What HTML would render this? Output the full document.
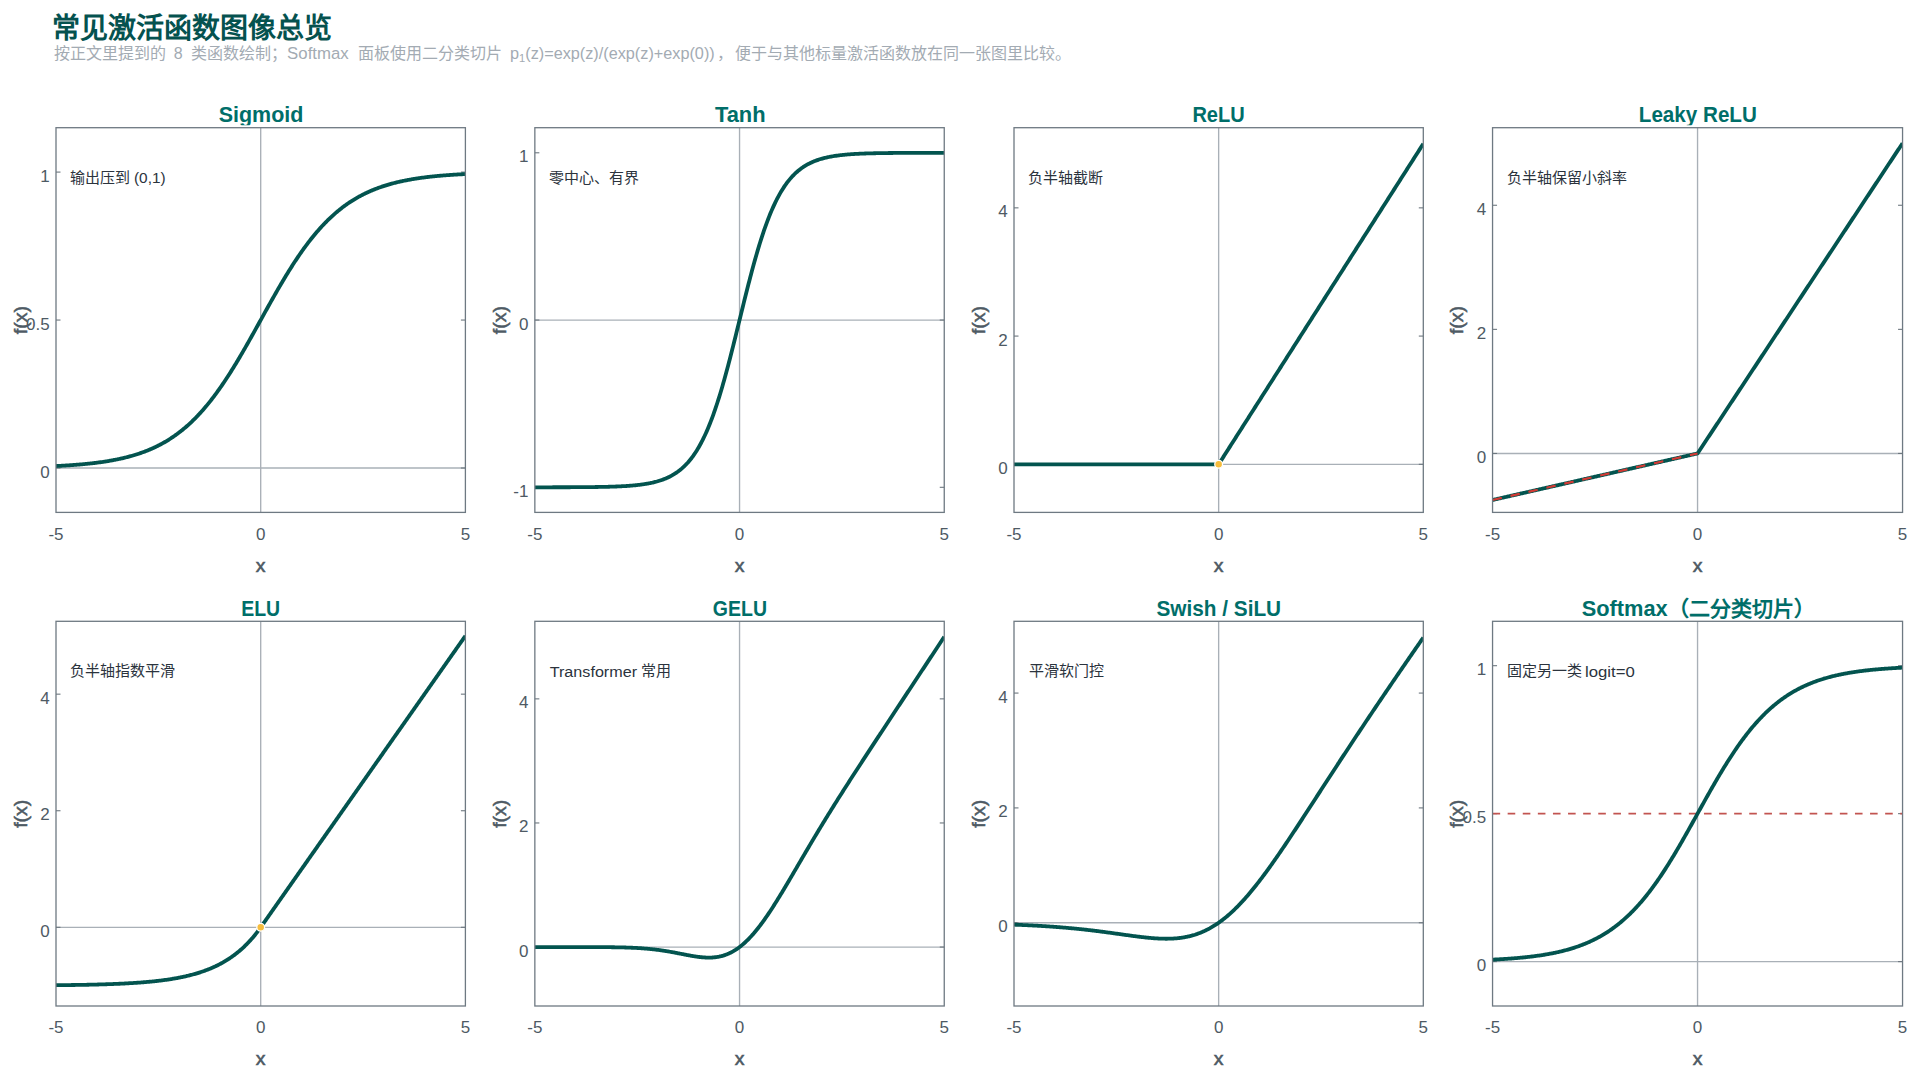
<!DOCTYPE html><html lang="zh-CN"><head><meta charset="utf-8"><style>html,body{margin:0;padding:0;background:#fff;width:1920px;height:1079px;overflow:hidden}svg{display:block}text{font-family:"Liberation Sans", sans-serif}</style></head><body>
<svg width="1920" height="1079" viewBox="0 0 1920 1079">
<rect width="1920" height="1079" fill="#fff"/>
<text x="52.30" y="37.60" font-size="28" font-weight="bold" fill="#05524f">常见激活函数图像总览</text>
<text x="53.80" y="59.20" font-size="16" font-weight="normal" fill="#a3abb3">按正文里提到的</text>
<text x="173.85" y="59.10" font-size="16" font-weight="normal" fill="#a3abb3">8</text>
<text x="191.45" y="59.20" font-size="16" font-weight="normal" fill="#a3abb3">类函数绘制；</text>
<text transform="translate(287.11 59.10) scale(1.0494 1.0300)" font-size="16" font-weight="normal" fill="#a3abb3">Softmax</text>
<text x="357.75" y="59.20" font-size="16" font-weight="normal" fill="#a3abb3">面板使用二分类切片</text>
<text transform="translate(509.98 59.10) scale(1.0150 1.0300)" font-size="16" font-weight="normal" fill="#a3abb3">p<tspan font-size="11" dy="3">1</tspan><tspan dy="-3">(z)=exp(z)/(exp(z)+exp(0))</tspan></text>
<text x="716.50" y="59.20" font-size="16" font-weight="normal" fill="#a3abb3">，</text>
<text x="734.50" y="59.20" font-size="16" font-weight="normal" fill="#a3abb3">便于与其他标量激活函数放在同一张图里比较。</text>
<clipPath id="cp0"><rect x="-4.0" y="67.7" width="529.4" height="57.6"/></clipPath>
<g clip-path="url(#cp0)">
<text transform="translate(218.67 122.20) scale(0.9763 1.0300)" font-size="22" font-weight="bold" fill="#006e69">Sigmoid</text>
</g>
<line x1="56.00" y1="468.01" x2="465.40" y2="468.01" stroke="#a9b0b7" stroke-width="1.35"/>
<line x1="260.70" y1="127.70" x2="260.70" y2="512.40" stroke="#a9b0b7" stroke-width="1.35"/>
<line x1="56.00" y1="468.01" x2="60.50" y2="468.01" stroke="#6d777f" stroke-width="1.1"/>
<line x1="460.90" y1="468.01" x2="465.40" y2="468.01" stroke="#6d777f" stroke-width="1.1"/>
<text x="49.60" y="477.51" font-size="17" fill="#4e5a64" text-anchor="end">0</text>
<line x1="56.00" y1="320.05" x2="60.50" y2="320.05" stroke="#6d777f" stroke-width="1.1"/>
<line x1="460.90" y1="320.05" x2="465.40" y2="320.05" stroke="#6d777f" stroke-width="1.1"/>
<text x="49.60" y="329.55" font-size="17" fill="#4e5a64" text-anchor="end">0.5</text>
<line x1="56.00" y1="172.09" x2="60.50" y2="172.09" stroke="#6d777f" stroke-width="1.1"/>
<line x1="460.90" y1="172.09" x2="465.40" y2="172.09" stroke="#6d777f" stroke-width="1.1"/>
<text x="49.60" y="181.59" font-size="17" fill="#4e5a64" text-anchor="end">1</text>
<text x="56.00" y="539.70" font-size="17" fill="#4e5a64" text-anchor="middle">-5</text>
<text x="260.70" y="539.70" font-size="17" fill="#4e5a64" text-anchor="middle">0</text>
<text x="465.40" y="539.70" font-size="17" fill="#4e5a64" text-anchor="middle">5</text>
<text transform="translate(255.83 571.85) scale(1.0824 1.0000)" font-size="18" font-weight="normal" fill="#4e5a64" stroke="#4e5a64" stroke-width="0.55">x</text>
<text transform="translate(26.80 334.22) rotate(-90) scale(1.0857 1)" font-size="18" fill="#4e5a64" stroke="#4e5a64" stroke-width="0.55">f(x)</text>
<text x="70.15" y="182.55" font-size="15" font-weight="normal" fill="#2b333d">输出压到</text>
<text transform="translate(133.98 183.00) scale(1.0241 1.0300)" font-size="15" font-weight="normal" fill="#2b333d">(0,1)</text>
<clipPath id="pc0"><rect x="56.00" y="127.70" width="409.40" height="384.70"/></clipPath>
<g clip-path="url(#pc0)">
<polyline points="56.00,466.03 56.82,465.99 57.64,465.95 58.46,465.91 59.28,465.87 60.09,465.82 60.91,465.78 61.73,465.74 62.55,465.69 63.37,465.64 64.19,465.60 65.01,465.55 65.83,465.50 66.64,465.45 67.46,465.40 68.28,465.34 69.10,465.29 69.92,465.24 70.74,465.18 71.56,465.12 72.38,465.07 73.19,465.01 74.01,464.95 74.83,464.89 75.65,464.82 76.47,464.76 77.29,464.70 78.11,464.63 78.93,464.56 79.75,464.49 80.56,464.42 81.38,464.35 82.20,464.28 83.02,464.20 83.84,464.13 84.66,464.05 85.48,463.97 86.30,463.89 87.11,463.81 87.93,463.72 88.75,463.64 89.57,463.55 90.39,463.46 91.21,463.37 92.03,463.28 92.85,463.19 93.66,463.09 94.48,462.99 95.30,462.89 96.12,462.79 96.94,462.69 97.76,462.58 98.58,462.48 99.40,462.37 100.22,462.25 101.03,462.14 101.85,462.02 102.67,461.91 103.49,461.78 104.31,461.66 105.13,461.54 105.95,461.41 106.77,461.28 107.58,461.15 108.40,461.01 109.22,460.87 110.04,460.73 110.86,460.59 111.68,460.44 112.50,460.29 113.32,460.14 114.13,459.99 114.95,459.83 115.77,459.67 116.59,459.50 117.41,459.34 118.23,459.17 119.05,458.99 119.87,458.82 120.69,458.64 121.50,458.45 122.32,458.27 123.14,458.08 123.96,457.88 124.78,457.69 125.60,457.49 126.42,457.28 127.24,457.07 128.05,456.86 128.87,456.64 129.69,456.42 130.51,456.20 131.33,455.97 132.15,455.73 132.97,455.50 133.79,455.26 134.60,455.01 135.42,454.76 136.24,454.50 137.06,454.24 137.88,453.98 138.70,453.71 139.52,453.43 140.34,453.15 141.16,452.87 141.97,452.58 142.79,452.28 143.61,451.98 144.43,451.68 145.25,451.36 146.07,451.05 146.89,450.73 147.71,450.40 148.52,450.06 149.34,449.72 150.16,449.38 150.98,449.02 151.80,448.67 152.62,448.30 153.44,447.93 154.26,447.55 155.07,447.17 155.89,446.78 156.71,446.38 157.53,445.97 158.35,445.56 159.17,445.14 159.99,444.72 160.81,444.29 161.63,443.85 162.44,443.40 163.26,442.94 164.08,442.48 164.90,442.01 165.72,441.53 166.54,441.05 167.36,440.55 168.18,440.05 168.99,439.54 169.81,439.02 170.63,438.49 171.45,437.96 172.27,437.41 173.09,436.86 173.91,436.30 174.73,435.73 175.54,435.15 176.36,434.56 177.18,433.96 178.00,433.35 178.82,432.74 179.64,432.11 180.46,431.47 181.28,430.83 182.10,430.17 182.91,429.51 183.73,428.83 184.55,428.15 185.37,427.45 186.19,426.75 187.01,426.03 187.83,425.31 188.65,424.57 189.46,423.83 190.28,423.07 191.10,422.30 191.92,421.52 192.74,420.73 193.56,419.93 194.38,419.12 195.20,418.30 196.01,417.47 196.83,416.63 197.65,415.77 198.47,414.90 199.29,414.03 200.11,413.14 200.93,412.24 201.75,411.33 202.57,410.41 203.38,409.47 204.20,408.53 205.02,407.57 205.84,406.60 206.66,405.63 207.48,404.64 208.30,403.63 209.12,402.62 209.93,401.60 210.75,400.56 211.57,399.51 212.39,398.45 213.21,397.38 214.03,396.30 214.85,395.21 215.67,394.11 216.48,392.99 217.30,391.87 218.12,390.73 218.94,389.58 219.76,388.43 220.58,387.26 221.40,386.08 222.22,384.89 223.04,383.69 223.85,382.47 224.67,381.25 225.49,380.02 226.31,378.78 227.13,377.53 227.95,376.27 228.77,375.00 229.59,373.72 230.40,372.43 231.22,371.13 232.04,369.82 232.86,368.50 233.68,367.18 234.50,365.85 235.32,364.50 236.14,363.15 236.95,361.80 237.77,360.43 238.59,359.06 239.41,357.68 240.23,356.29 241.05,354.89 241.87,353.49 242.69,352.09 243.51,350.67 244.32,349.25 245.14,347.83 245.96,346.40 246.78,344.96 247.60,343.52 248.42,342.08 249.24,340.63 250.06,339.18 250.87,337.72 251.69,336.26 252.51,334.80 253.33,333.33 254.15,331.86 254.97,330.39 255.79,328.92 256.61,327.44 257.42,325.97 258.24,324.49 259.06,323.01 259.88,321.53 260.70,320.05 261.52,318.57 262.34,317.09 263.16,315.61 263.98,314.13 264.79,312.66 265.61,311.18 266.43,309.71 267.25,308.24 268.07,306.77 268.89,305.30 269.71,303.84 270.53,302.38 271.34,300.92 272.16,299.47 272.98,298.02 273.80,296.58 274.62,295.14 275.44,293.70 276.26,292.27 277.08,290.85 277.89,289.43 278.71,288.01 279.53,286.61 280.35,285.21 281.17,283.81 281.99,282.42 282.81,281.04 283.63,279.67 284.45,278.30 285.26,276.95 286.08,275.60 286.90,274.25 287.72,272.92 288.54,271.60 289.36,270.28 290.18,268.97 291.00,267.67 291.81,266.38 292.63,265.10 293.45,263.83 294.27,262.57 295.09,261.32 295.91,260.08 296.73,258.85 297.55,257.63 298.36,256.41 299.18,255.21 300.00,254.02 300.82,252.84 301.64,251.67 302.46,250.52 303.28,249.37 304.10,248.23 304.92,247.11 305.73,245.99 306.55,244.89 307.37,243.80 308.19,242.72 309.01,241.65 309.83,240.59 310.65,239.54 311.47,238.50 312.28,237.48 313.10,236.47 313.92,235.46 314.74,234.47 315.56,233.50 316.38,232.53 317.20,231.57 318.02,230.63 318.83,229.69 319.65,228.77 320.47,227.86 321.29,226.96 322.11,226.07 322.93,225.20 323.75,224.33 324.57,223.47 325.39,222.63 326.20,221.80 327.02,220.98 327.84,220.17 328.66,219.37 329.48,218.58 330.30,217.80 331.12,217.03 331.94,216.27 332.75,215.53 333.57,214.79 334.39,214.07 335.21,213.35 336.03,212.65 336.85,211.95 337.67,211.27 338.49,210.59 339.30,209.93 340.12,209.27 340.94,208.63 341.76,207.99 342.58,207.36 343.40,206.75 344.22,206.14 345.04,205.54 345.86,204.95 346.67,204.37 347.49,203.80 348.31,203.24 349.13,202.69 349.95,202.14 350.77,201.61 351.59,201.08 352.41,200.56 353.22,200.05 354.04,199.55 354.86,199.05 355.68,198.57 356.50,198.09 357.32,197.62 358.14,197.16 358.96,196.70 359.77,196.25 360.59,195.81 361.41,195.38 362.23,194.96 363.05,194.54 363.87,194.13 364.69,193.72 365.51,193.32 366.33,192.93 367.14,192.55 367.96,192.17 368.78,191.80 369.60,191.43 370.42,191.08 371.24,190.72 372.06,190.38 372.88,190.04 373.69,189.70 374.51,189.37 375.33,189.05 376.15,188.74 376.97,188.42 377.79,188.12 378.61,187.82 379.43,187.52 380.24,187.23 381.06,186.95 381.88,186.67 382.70,186.39 383.52,186.12 384.34,185.86 385.16,185.60 385.98,185.34 386.80,185.09 387.61,184.84 388.43,184.60 389.25,184.37 390.07,184.13 390.89,183.90 391.71,183.68 392.53,183.46 393.35,183.24 394.16,183.03 394.98,182.82 395.80,182.61 396.62,182.41 397.44,182.22 398.26,182.02 399.08,181.83 399.90,181.65 400.71,181.46 401.53,181.28 402.35,181.11 403.17,180.93 403.99,180.76 404.81,180.60 405.63,180.43 406.45,180.27 407.27,180.11 408.08,179.96 408.90,179.81 409.72,179.66 410.54,179.51 411.36,179.37 412.18,179.23 413.00,179.09 413.82,178.95 414.63,178.82 415.45,178.69 416.27,178.56 417.09,178.44 417.91,178.32 418.73,178.19 419.55,178.08 420.37,177.96 421.18,177.85 422.00,177.73 422.82,177.62 423.64,177.52 424.46,177.41 425.28,177.31 426.10,177.21 426.92,177.11 427.74,177.01 428.55,176.91 429.37,176.82 430.19,176.73 431.01,176.64 431.83,176.55 432.65,176.46 433.47,176.38 434.29,176.29 435.10,176.21 435.92,176.13 436.74,176.05 437.56,175.97 438.38,175.90 439.20,175.82 440.02,175.75 440.84,175.68 441.65,175.61 442.47,175.54 443.29,175.47 444.11,175.40 444.93,175.34 445.75,175.28 446.57,175.21 447.39,175.15 448.21,175.09 449.02,175.03 449.84,174.98 450.66,174.92 451.48,174.86 452.30,174.81 453.12,174.76 453.94,174.70 454.76,174.65 455.57,174.60 456.39,174.55 457.21,174.50 458.03,174.46 458.85,174.41 459.67,174.36 460.49,174.32 461.31,174.28 462.12,174.23 462.94,174.19 463.76,174.15 464.58,174.11 465.40,174.07" fill="none" stroke="#03544f" stroke-width="3.8" stroke-linejoin="round" stroke-linecap="butt"/>
</g>
<rect x="56.00" y="127.70" width="409.40" height="384.70" fill="none" stroke="#6e7982" stroke-width="1.3"/>
<clipPath id="cp1"><rect x="474.9" y="67.7" width="529.4" height="57.6"/></clipPath>
<g clip-path="url(#cp1)">
<text transform="translate(714.95 122.20) scale(0.9949 1.0300)" font-size="22" font-weight="bold" fill="#006e69">Tanh</text>
</g>
<line x1="534.85" y1="320.05" x2="944.25" y2="320.05" stroke="#a9b0b7" stroke-width="1.35"/>
<line x1="739.55" y1="127.70" x2="739.55" y2="512.40" stroke="#a9b0b7" stroke-width="1.35"/>
<line x1="534.85" y1="487.31" x2="539.35" y2="487.31" stroke="#6d777f" stroke-width="1.1"/>
<line x1="939.75" y1="487.31" x2="944.25" y2="487.31" stroke="#6d777f" stroke-width="1.1"/>
<text x="528.45" y="496.81" font-size="17" fill="#4e5a64" text-anchor="end">-1</text>
<line x1="534.85" y1="320.05" x2="539.35" y2="320.05" stroke="#6d777f" stroke-width="1.1"/>
<line x1="939.75" y1="320.05" x2="944.25" y2="320.05" stroke="#6d777f" stroke-width="1.1"/>
<text x="528.45" y="329.55" font-size="17" fill="#4e5a64" text-anchor="end">0</text>
<line x1="534.85" y1="152.79" x2="539.35" y2="152.79" stroke="#6d777f" stroke-width="1.1"/>
<line x1="939.75" y1="152.79" x2="944.25" y2="152.79" stroke="#6d777f" stroke-width="1.1"/>
<text x="528.45" y="162.29" font-size="17" fill="#4e5a64" text-anchor="end">1</text>
<text x="534.85" y="539.70" font-size="17" fill="#4e5a64" text-anchor="middle">-5</text>
<text x="739.55" y="539.70" font-size="17" fill="#4e5a64" text-anchor="middle">0</text>
<text x="944.25" y="539.70" font-size="17" fill="#4e5a64" text-anchor="middle">5</text>
<text transform="translate(734.68 571.85) scale(1.0824 1.0000)" font-size="18" font-weight="normal" fill="#4e5a64" stroke="#4e5a64" stroke-width="0.55">x</text>
<text transform="translate(505.65 334.22) rotate(-90) scale(1.0857 1)" font-size="18" fill="#4e5a64" stroke="#4e5a64" stroke-width="0.55">f(x)</text>
<text x="549.25" y="182.55" font-size="15" font-weight="normal" fill="#2b333d">零中心、有界</text>
<clipPath id="pc1"><rect x="534.85" y="127.70" width="409.40" height="384.70"/></clipPath>
<g clip-path="url(#pc1)">
<polyline points="534.85,487.30 535.67,487.30 536.49,487.29 537.31,487.29 538.13,487.29 538.94,487.29 539.76,487.29 540.58,487.29 541.40,487.29 542.22,487.29 543.04,487.29 543.86,487.29 544.68,487.29 545.49,487.29 546.31,487.28 547.13,487.28 547.95,487.28 548.77,487.28 549.59,487.28 550.41,487.28 551.23,487.28 552.04,487.28 552.86,487.27 553.68,487.27 554.50,487.27 555.32,487.27 556.14,487.27 556.96,487.27 557.78,487.26 558.60,487.26 559.41,487.26 560.23,487.26 561.05,487.26 561.87,487.25 562.69,487.25 563.51,487.25 564.33,487.25 565.15,487.24 565.96,487.24 566.78,487.24 567.60,487.24 568.42,487.23 569.24,487.23 570.06,487.23 570.88,487.22 571.70,487.22 572.51,487.22 573.33,487.21 574.15,487.21 574.97,487.20 575.79,487.20 576.61,487.19 577.43,487.19 578.25,487.18 579.07,487.18 579.88,487.17 580.70,487.17 581.52,487.16 582.34,487.16 583.16,487.15 583.98,487.14 584.80,487.14 585.62,487.13 586.43,487.12 587.25,487.11 588.07,487.11 588.89,487.10 589.71,487.09 590.53,487.08 591.35,487.07 592.17,487.06 592.98,487.05 593.80,487.04 594.62,487.03 595.44,487.02 596.26,487.01 597.08,486.99 597.90,486.98 598.72,486.97 599.54,486.95 600.35,486.94 601.17,486.92 601.99,486.91 602.81,486.89 603.63,486.87 604.45,486.86 605.27,486.84 606.09,486.82 606.90,486.80 607.72,486.78 608.54,486.76 609.36,486.73 610.18,486.71 611.00,486.69 611.82,486.66 612.64,486.63 613.45,486.61 614.27,486.58 615.09,486.55 615.91,486.52 616.73,486.48 617.55,486.45 618.37,486.42 619.19,486.38 620.01,486.34 620.82,486.30 621.64,486.26 622.46,486.22 623.28,486.17 624.10,486.13 624.92,486.08 625.74,486.03 626.56,485.98 627.37,485.92 628.19,485.87 629.01,485.81 629.83,485.75 630.65,485.68 631.47,485.62 632.29,485.55 633.11,485.48 633.92,485.40 634.74,485.32 635.56,485.24 636.38,485.16 637.20,485.07 638.02,484.98 638.84,484.89 639.66,484.79 640.48,484.69 641.29,484.58 642.11,484.47 642.93,484.35 643.75,484.24 644.57,484.11 645.39,483.98 646.21,483.85 647.03,483.71 647.84,483.56 648.66,483.41 649.48,483.25 650.30,483.09 651.12,482.92 651.94,482.74 652.76,482.56 653.58,482.37 654.39,482.17 655.21,481.96 656.03,481.75 656.85,481.53 657.67,481.29 658.49,481.05 659.31,480.80 660.13,480.54 660.95,480.27 661.76,479.99 662.58,479.70 663.40,479.40 664.22,479.08 665.04,478.75 665.86,478.41 666.68,478.06 667.50,477.69 668.31,477.31 669.13,476.92 669.95,476.51 670.77,476.08 671.59,475.64 672.41,475.18 673.23,474.70 674.05,474.21 674.86,473.70 675.68,473.16 676.50,472.61 677.32,472.04 678.14,471.45 678.96,470.83 679.78,470.19 680.60,469.53 681.42,468.85 682.23,468.13 683.05,467.40 683.87,466.64 684.69,465.85 685.51,465.03 686.33,464.18 687.15,463.31 687.97,462.40 688.78,461.46 689.60,460.49 690.42,459.49 691.24,458.45 692.06,457.38 692.88,456.27 693.70,455.12 694.52,453.94 695.33,452.72 696.15,451.46 696.97,450.16 697.79,448.82 698.61,447.43 699.43,446.01 700.25,444.54 701.07,443.02 701.89,441.46 702.70,439.86 703.52,438.21 704.34,436.51 705.16,434.76 705.98,432.96 706.80,431.12 707.62,429.22 708.44,427.28 709.25,425.28 710.07,423.23 710.89,421.14 711.71,418.99 712.53,416.79 713.35,414.54 714.17,412.23 714.99,409.88 715.80,407.47 716.62,405.01 717.44,402.51 718.26,399.95 719.08,397.34 719.90,394.69 720.72,391.99 721.54,389.24 722.36,386.44 723.17,383.60 723.99,380.72 724.81,377.79 725.63,374.82 726.45,371.82 727.27,368.78 728.09,365.70 728.91,362.58 729.72,359.44 730.54,356.26 731.36,353.06 732.18,349.84 733.00,346.59 733.82,343.31 734.64,340.03 735.46,336.72 736.27,333.40 737.09,330.07 737.91,326.74 738.73,323.39 739.55,320.05 740.37,316.71 741.19,313.36 742.01,310.03 742.83,306.70 743.64,303.38 744.46,300.07 745.28,296.79 746.10,293.51 746.92,290.26 747.74,287.04 748.56,283.84 749.38,280.66 750.19,277.52 751.01,274.40 751.83,271.32 752.65,268.28 753.47,265.28 754.29,262.31 755.11,259.38 755.93,256.50 756.74,253.66 757.56,250.86 758.38,248.11 759.20,245.41 760.02,242.76 760.84,240.15 761.66,237.59 762.48,235.09 763.30,232.63 764.11,230.22 764.93,227.87 765.75,225.56 766.57,223.31 767.39,221.11 768.21,218.96 769.03,216.87 769.85,214.82 770.66,212.82 771.48,210.88 772.30,208.98 773.12,207.14 773.94,205.34 774.76,203.59 775.58,201.89 776.40,200.24 777.21,198.64 778.03,197.08 778.85,195.56 779.67,194.09 780.49,192.67 781.31,191.28 782.13,189.94 782.95,188.64 783.77,187.38 784.58,186.16 785.40,184.98 786.22,183.83 787.04,182.72 787.86,181.65 788.68,180.61 789.50,179.61 790.32,178.64 791.13,177.70 791.95,176.79 792.77,175.92 793.59,175.07 794.41,174.25 795.23,173.46 796.05,172.70 796.87,171.97 797.68,171.25 798.50,170.57 799.32,169.91 800.14,169.27 800.96,168.65 801.78,168.06 802.60,167.49 803.42,166.94 804.24,166.40 805.05,165.89 805.87,165.40 806.69,164.92 807.51,164.46 808.33,164.02 809.15,163.59 809.97,163.18 810.79,162.79 811.60,162.41 812.42,162.04 813.24,161.69 814.06,161.35 814.88,161.02 815.70,160.70 816.52,160.40 817.34,160.11 818.15,159.83 818.97,159.56 819.79,159.30 820.61,159.05 821.43,158.81 822.25,158.57 823.07,158.35 823.89,158.14 824.71,157.93 825.52,157.73 826.34,157.54 827.16,157.36 827.98,157.18 828.80,157.01 829.62,156.85 830.44,156.69 831.26,156.54 832.07,156.39 832.89,156.25 833.71,156.12 834.53,155.99 835.35,155.86 836.17,155.75 836.99,155.63 837.81,155.52 838.62,155.41 839.44,155.31 840.26,155.21 841.08,155.12 841.90,155.03 842.72,154.94 843.54,154.86 844.36,154.78 845.18,154.70 845.99,154.62 846.81,154.55 847.63,154.48 848.45,154.42 849.27,154.35 850.09,154.29 850.91,154.23 851.73,154.18 852.54,154.12 853.36,154.07 854.18,154.02 855.00,153.97 855.82,153.93 856.64,153.88 857.46,153.84 858.28,153.80 859.09,153.76 859.91,153.72 860.73,153.68 861.55,153.65 862.37,153.62 863.19,153.58 864.01,153.55 864.83,153.52 865.65,153.49 866.46,153.47 867.28,153.44 868.10,153.41 868.92,153.39 869.74,153.37 870.56,153.34 871.38,153.32 872.20,153.30 873.01,153.28 873.83,153.26 874.65,153.24 875.47,153.23 876.29,153.21 877.11,153.19 877.93,153.18 878.75,153.16 879.56,153.15 880.38,153.13 881.20,153.12 882.02,153.11 882.84,153.09 883.66,153.08 884.48,153.07 885.30,153.06 886.12,153.05 886.93,153.04 887.75,153.03 888.57,153.02 889.39,153.01 890.21,153.00 891.03,152.99 891.85,152.99 892.67,152.98 893.48,152.97 894.30,152.96 895.12,152.96 895.94,152.95 896.76,152.94 897.58,152.94 898.40,152.93 899.22,152.93 900.03,152.92 900.85,152.92 901.67,152.91 902.49,152.91 903.31,152.90 904.13,152.90 904.95,152.89 905.77,152.89 906.59,152.88 907.40,152.88 908.22,152.88 909.04,152.87 909.86,152.87 910.68,152.87 911.50,152.86 912.32,152.86 913.14,152.86 913.95,152.86 914.77,152.85 915.59,152.85 916.41,152.85 917.23,152.85 918.05,152.84 918.87,152.84 919.69,152.84 920.50,152.84 921.32,152.84 922.14,152.83 922.96,152.83 923.78,152.83 924.60,152.83 925.42,152.83 926.24,152.83 927.06,152.82 927.87,152.82 928.69,152.82 929.51,152.82 930.33,152.82 931.15,152.82 931.97,152.82 932.79,152.82 933.61,152.81 934.42,152.81 935.24,152.81 936.06,152.81 936.88,152.81 937.70,152.81 938.52,152.81 939.34,152.81 940.16,152.81 940.97,152.81 941.79,152.81 942.61,152.81 943.43,152.80 944.25,152.80" fill="none" stroke="#03544f" stroke-width="3.8" stroke-linejoin="round" stroke-linecap="butt"/>
</g>
<rect x="534.85" y="127.70" width="409.40" height="384.70" fill="none" stroke="#6e7982" stroke-width="1.3"/>
<clipPath id="cp2"><rect x="954.0" y="67.7" width="529.3" height="57.6"/></clipPath>
<g clip-path="url(#cp2)">
<text transform="translate(1192.38 122.20) scale(0.9128 1.0300)" font-size="22" font-weight="bold" fill="#006e69">ReLU</text>
</g>
<line x1="1014.00" y1="464.31" x2="1423.30" y2="464.31" stroke="#a9b0b7" stroke-width="1.35"/>
<line x1="1218.65" y1="127.70" x2="1218.65" y2="512.40" stroke="#a9b0b7" stroke-width="1.35"/>
<line x1="1014.00" y1="464.31" x2="1018.50" y2="464.31" stroke="#6d777f" stroke-width="1.1"/>
<line x1="1418.80" y1="464.31" x2="1423.30" y2="464.31" stroke="#6d777f" stroke-width="1.1"/>
<text x="1007.60" y="473.81" font-size="17" fill="#4e5a64" text-anchor="end">0</text>
<line x1="1014.00" y1="336.08" x2="1018.50" y2="336.08" stroke="#6d777f" stroke-width="1.1"/>
<line x1="1418.80" y1="336.08" x2="1423.30" y2="336.08" stroke="#6d777f" stroke-width="1.1"/>
<text x="1007.60" y="345.58" font-size="17" fill="#4e5a64" text-anchor="end">2</text>
<line x1="1014.00" y1="207.85" x2="1018.50" y2="207.85" stroke="#6d777f" stroke-width="1.1"/>
<line x1="1418.80" y1="207.85" x2="1423.30" y2="207.85" stroke="#6d777f" stroke-width="1.1"/>
<text x="1007.60" y="217.35" font-size="17" fill="#4e5a64" text-anchor="end">4</text>
<text x="1014.00" y="539.70" font-size="17" fill="#4e5a64" text-anchor="middle">-5</text>
<text x="1218.65" y="539.70" font-size="17" fill="#4e5a64" text-anchor="middle">0</text>
<text x="1423.30" y="539.70" font-size="17" fill="#4e5a64" text-anchor="middle">5</text>
<text transform="translate(1213.78 571.85) scale(1.0824 1.0000)" font-size="18" font-weight="normal" fill="#4e5a64" stroke="#4e5a64" stroke-width="0.55">x</text>
<text transform="translate(984.80 334.22) rotate(-90) scale(1.0857 1)" font-size="18" fill="#4e5a64" stroke="#4e5a64" stroke-width="0.55">f(x)</text>
<text x="1028.40" y="182.55" font-size="15" font-weight="normal" fill="#2b333d">负半轴截断</text>
<clipPath id="pc2"><rect x="1014.00" y="127.70" width="409.30" height="384.70"/></clipPath>
<g clip-path="url(#pc2)">
<polyline points="1014.00,464.31 1014.82,464.31 1015.64,464.31 1016.46,464.31 1017.27,464.31 1018.09,464.31 1018.91,464.31 1019.73,464.31 1020.55,464.31 1021.37,464.31 1022.19,464.31 1023.00,464.31 1023.82,464.31 1024.64,464.31 1025.46,464.31 1026.28,464.31 1027.10,464.31 1027.92,464.31 1028.73,464.31 1029.55,464.31 1030.37,464.31 1031.19,464.31 1032.01,464.31 1032.83,464.31 1033.65,464.31 1034.46,464.31 1035.28,464.31 1036.10,464.31 1036.92,464.31 1037.74,464.31 1038.56,464.31 1039.38,464.31 1040.20,464.31 1041.01,464.31 1041.83,464.31 1042.65,464.31 1043.47,464.31 1044.29,464.31 1045.11,464.31 1045.93,464.31 1046.74,464.31 1047.56,464.31 1048.38,464.31 1049.20,464.31 1050.02,464.31 1050.84,464.31 1051.66,464.31 1052.47,464.31 1053.29,464.31 1054.11,464.31 1054.93,464.31 1055.75,464.31 1056.57,464.31 1057.39,464.31 1058.20,464.31 1059.02,464.31 1059.84,464.31 1060.66,464.31 1061.48,464.31 1062.30,464.31 1063.12,464.31 1063.93,464.31 1064.75,464.31 1065.57,464.31 1066.39,464.31 1067.21,464.31 1068.03,464.31 1068.85,464.31 1069.66,464.31 1070.48,464.31 1071.30,464.31 1072.12,464.31 1072.94,464.31 1073.76,464.31 1074.58,464.31 1075.39,464.31 1076.21,464.31 1077.03,464.31 1077.85,464.31 1078.67,464.31 1079.49,464.31 1080.31,464.31 1081.13,464.31 1081.94,464.31 1082.76,464.31 1083.58,464.31 1084.40,464.31 1085.22,464.31 1086.04,464.31 1086.86,464.31 1087.67,464.31 1088.49,464.31 1089.31,464.31 1090.13,464.31 1090.95,464.31 1091.77,464.31 1092.59,464.31 1093.40,464.31 1094.22,464.31 1095.04,464.31 1095.86,464.31 1096.68,464.31 1097.50,464.31 1098.32,464.31 1099.13,464.31 1099.95,464.31 1100.77,464.31 1101.59,464.31 1102.41,464.31 1103.23,464.31 1104.05,464.31 1104.86,464.31 1105.68,464.31 1106.50,464.31 1107.32,464.31 1108.14,464.31 1108.96,464.31 1109.78,464.31 1110.59,464.31 1111.41,464.31 1112.23,464.31 1113.05,464.31 1113.87,464.31 1114.69,464.31 1115.51,464.31 1116.33,464.31 1117.14,464.31 1117.96,464.31 1118.78,464.31 1119.60,464.31 1120.42,464.31 1121.24,464.31 1122.06,464.31 1122.87,464.31 1123.69,464.31 1124.51,464.31 1125.33,464.31 1126.15,464.31 1126.97,464.31 1127.79,464.31 1128.60,464.31 1129.42,464.31 1130.24,464.31 1131.06,464.31 1131.88,464.31 1132.70,464.31 1133.52,464.31 1134.33,464.31 1135.15,464.31 1135.97,464.31 1136.79,464.31 1137.61,464.31 1138.43,464.31 1139.25,464.31 1140.06,464.31 1140.88,464.31 1141.70,464.31 1142.52,464.31 1143.34,464.31 1144.16,464.31 1144.98,464.31 1145.79,464.31 1146.61,464.31 1147.43,464.31 1148.25,464.31 1149.07,464.31 1149.89,464.31 1150.71,464.31 1151.52,464.31 1152.34,464.31 1153.16,464.31 1153.98,464.31 1154.80,464.31 1155.62,464.31 1156.44,464.31 1157.26,464.31 1158.07,464.31 1158.89,464.31 1159.71,464.31 1160.53,464.31 1161.35,464.31 1162.17,464.31 1162.99,464.31 1163.80,464.31 1164.62,464.31 1165.44,464.31 1166.26,464.31 1167.08,464.31 1167.90,464.31 1168.72,464.31 1169.53,464.31 1170.35,464.31 1171.17,464.31 1171.99,464.31 1172.81,464.31 1173.63,464.31 1174.45,464.31 1175.26,464.31 1176.08,464.31 1176.90,464.31 1177.72,464.31 1178.54,464.31 1179.36,464.31 1180.18,464.31 1180.99,464.31 1181.81,464.31 1182.63,464.31 1183.45,464.31 1184.27,464.31 1185.09,464.31 1185.91,464.31 1186.72,464.31 1187.54,464.31 1188.36,464.31 1189.18,464.31 1190.00,464.31 1190.82,464.31 1191.64,464.31 1192.45,464.31 1193.27,464.31 1194.09,464.31 1194.91,464.31 1195.73,464.31 1196.55,464.31 1197.37,464.31 1198.18,464.31 1199.00,464.31 1199.82,464.31 1200.64,464.31 1201.46,464.31 1202.28,464.31 1203.10,464.31 1203.92,464.31 1204.73,464.31 1205.55,464.31 1206.37,464.31 1207.19,464.31 1208.01,464.31 1208.83,464.31 1209.65,464.31 1210.46,464.31 1211.28,464.31 1212.10,464.31 1212.92,464.31 1213.74,464.31 1214.56,464.31 1215.38,464.31 1216.19,464.31 1217.01,464.31 1217.83,464.31 1218.65,464.31 1219.47,463.03 1220.29,461.75 1221.11,460.47 1221.92,459.18 1222.74,457.90 1223.56,456.62 1224.38,455.34 1225.20,454.05 1226.02,452.77 1226.84,451.49 1227.65,450.21 1228.47,448.92 1229.29,447.64 1230.11,446.36 1230.93,445.08 1231.75,443.80 1232.57,442.51 1233.38,441.23 1234.20,439.95 1235.02,438.67 1235.84,437.38 1236.66,436.10 1237.48,434.82 1238.30,433.54 1239.12,432.25 1239.93,430.97 1240.75,429.69 1241.57,428.41 1242.39,427.12 1243.21,425.84 1244.03,424.56 1244.85,423.28 1245.66,422.00 1246.48,420.71 1247.30,419.43 1248.12,418.15 1248.94,416.87 1249.76,415.58 1250.58,414.30 1251.39,413.02 1252.21,411.74 1253.03,410.45 1253.85,409.17 1254.67,407.89 1255.49,406.61 1256.31,405.33 1257.12,404.04 1257.94,402.76 1258.76,401.48 1259.58,400.20 1260.40,398.91 1261.22,397.63 1262.04,396.35 1262.85,395.07 1263.67,393.78 1264.49,392.50 1265.31,391.22 1266.13,389.94 1266.95,388.65 1267.77,387.37 1268.58,386.09 1269.40,384.81 1270.22,383.53 1271.04,382.24 1271.86,380.96 1272.68,379.68 1273.50,378.40 1274.31,377.11 1275.13,375.83 1275.95,374.55 1276.77,373.27 1277.59,371.98 1278.41,370.70 1279.23,369.42 1280.05,368.14 1280.86,366.86 1281.68,365.57 1282.50,364.29 1283.32,363.01 1284.14,361.73 1284.96,360.44 1285.78,359.16 1286.59,357.88 1287.41,356.60 1288.23,355.31 1289.05,354.03 1289.87,352.75 1290.69,351.47 1291.51,350.18 1292.32,348.90 1293.14,347.62 1293.96,346.34 1294.78,345.06 1295.60,343.77 1296.42,342.49 1297.24,341.21 1298.05,339.93 1298.87,338.64 1299.69,337.36 1300.51,336.08 1301.33,334.80 1302.15,333.51 1302.97,332.23 1303.78,330.95 1304.60,329.67 1305.42,328.39 1306.24,327.10 1307.06,325.82 1307.88,324.54 1308.70,323.26 1309.51,321.97 1310.33,320.69 1311.15,319.41 1311.97,318.13 1312.79,316.84 1313.61,315.56 1314.43,314.28 1315.24,313.00 1316.06,311.71 1316.88,310.43 1317.70,309.15 1318.52,307.87 1319.34,306.59 1320.16,305.30 1320.97,304.02 1321.79,302.74 1322.61,301.46 1323.43,300.17 1324.25,298.89 1325.07,297.61 1325.89,296.33 1326.71,295.04 1327.52,293.76 1328.34,292.48 1329.16,291.20 1329.98,289.92 1330.80,288.63 1331.62,287.35 1332.44,286.07 1333.25,284.79 1334.07,283.50 1334.89,282.22 1335.71,280.94 1336.53,279.66 1337.35,278.37 1338.17,277.09 1338.98,275.81 1339.80,274.53 1340.62,273.24 1341.44,271.96 1342.26,270.68 1343.08,269.40 1343.90,268.12 1344.71,266.83 1345.53,265.55 1346.35,264.27 1347.17,262.99 1347.99,261.70 1348.81,260.42 1349.63,259.14 1350.44,257.86 1351.26,256.57 1352.08,255.29 1352.90,254.01 1353.72,252.73 1354.54,251.45 1355.36,250.16 1356.17,248.88 1356.99,247.60 1357.81,246.32 1358.63,245.03 1359.45,243.75 1360.27,242.47 1361.09,241.19 1361.90,239.90 1362.72,238.62 1363.54,237.34 1364.36,236.06 1365.18,234.77 1366.00,233.49 1366.82,232.21 1367.64,230.93 1368.45,229.65 1369.27,228.36 1370.09,227.08 1370.91,225.80 1371.73,224.52 1372.55,223.23 1373.37,221.95 1374.18,220.67 1375.00,219.39 1375.82,218.10 1376.64,216.82 1377.46,215.54 1378.28,214.26 1379.10,212.98 1379.91,211.69 1380.73,210.41 1381.55,209.13 1382.37,207.85 1383.19,206.56 1384.01,205.28 1384.83,204.00 1385.64,202.72 1386.46,201.43 1387.28,200.15 1388.10,198.87 1388.92,197.59 1389.74,196.30 1390.56,195.02 1391.37,193.74 1392.19,192.46 1393.01,191.18 1393.83,189.89 1394.65,188.61 1395.47,187.33 1396.29,186.05 1397.10,184.76 1397.92,183.48 1398.74,182.20 1399.56,180.92 1400.38,179.63 1401.20,178.35 1402.02,177.07 1402.84,175.79 1403.65,174.51 1404.47,173.22 1405.29,171.94 1406.11,170.66 1406.93,169.38 1407.75,168.09 1408.57,166.81 1409.38,165.53 1410.20,164.25 1411.02,162.96 1411.84,161.68 1412.66,160.40 1413.48,159.12 1414.30,157.83 1415.11,156.55 1415.93,155.27 1416.75,153.99 1417.57,152.71 1418.39,151.42 1419.21,150.14 1420.03,148.86 1420.84,147.58 1421.66,146.29 1422.48,145.01 1423.30,143.73" fill="none" stroke="#03544f" stroke-width="3.8" stroke-linejoin="round" stroke-linecap="butt"/>
<circle cx="1218.65" cy="464.31" r="3.9" fill="#f6bd3d" stroke="#fff" stroke-width="1.3"/>
</g>
<rect x="1014.00" y="127.70" width="409.30" height="384.70" fill="none" stroke="#6e7982" stroke-width="1.3"/>
<clipPath id="cp3"><rect x="1432.5" y="67.7" width="530.0" height="57.6"/></clipPath>
<g clip-path="url(#cp3)">
<text transform="translate(1638.79 122.20) scale(0.9382 1.0300)" font-size="22" font-weight="bold" fill="#006e69">Leaky ReLU</text>
</g>
<line x1="1492.55" y1="453.45" x2="1902.55" y2="453.45" stroke="#a9b0b7" stroke-width="1.35"/>
<line x1="1697.55" y1="127.70" x2="1697.55" y2="512.40" stroke="#a9b0b7" stroke-width="1.35"/>
<line x1="1492.55" y1="453.45" x2="1497.05" y2="453.45" stroke="#6d777f" stroke-width="1.1"/>
<line x1="1898.05" y1="453.45" x2="1902.55" y2="453.45" stroke="#6d777f" stroke-width="1.1"/>
<text x="1486.15" y="462.95" font-size="17" fill="#4e5a64" text-anchor="end">0</text>
<line x1="1492.55" y1="329.36" x2="1497.05" y2="329.36" stroke="#6d777f" stroke-width="1.1"/>
<line x1="1898.05" y1="329.36" x2="1902.55" y2="329.36" stroke="#6d777f" stroke-width="1.1"/>
<text x="1486.15" y="338.86" font-size="17" fill="#4e5a64" text-anchor="end">2</text>
<line x1="1492.55" y1="205.26" x2="1497.05" y2="205.26" stroke="#6d777f" stroke-width="1.1"/>
<line x1="1898.05" y1="205.26" x2="1902.55" y2="205.26" stroke="#6d777f" stroke-width="1.1"/>
<text x="1486.15" y="214.76" font-size="17" fill="#4e5a64" text-anchor="end">4</text>
<text x="1492.55" y="539.70" font-size="17" fill="#4e5a64" text-anchor="middle">-5</text>
<text x="1697.55" y="539.70" font-size="17" fill="#4e5a64" text-anchor="middle">0</text>
<text x="1902.55" y="539.70" font-size="17" fill="#4e5a64" text-anchor="middle">5</text>
<text transform="translate(1692.68 571.85) scale(1.0824 1.0000)" font-size="18" font-weight="normal" fill="#4e5a64" stroke="#4e5a64" stroke-width="0.55">x</text>
<text transform="translate(1463.35 334.22) rotate(-90) scale(1.0857 1)" font-size="18" fill="#4e5a64" stroke="#4e5a64" stroke-width="0.55">f(x)</text>
<text x="1507.00" y="182.55" font-size="15" font-weight="normal" fill="#2b333d">负半轴保留小斜率</text>
<clipPath id="pc3"><rect x="1492.55" y="127.70" width="410.00" height="384.70"/></clipPath>
<g clip-path="url(#pc3)">
<polyline points="1492.55,499.99 1493.37,499.80 1494.19,499.62 1495.01,499.43 1495.83,499.25 1496.65,499.06 1497.47,498.87 1498.29,498.69 1499.11,498.50 1499.93,498.32 1500.75,498.13 1501.57,497.94 1502.39,497.76 1503.21,497.57 1504.03,497.38 1504.85,497.20 1505.67,497.01 1506.49,496.83 1507.31,496.64 1508.13,496.45 1508.95,496.27 1509.77,496.08 1510.59,495.90 1511.41,495.71 1512.23,495.52 1513.05,495.34 1513.87,495.15 1514.69,494.96 1515.51,494.78 1516.33,494.59 1517.15,494.41 1517.97,494.22 1518.79,494.03 1519.61,493.85 1520.43,493.66 1521.25,493.48 1522.07,493.29 1522.89,493.10 1523.71,492.92 1524.53,492.73 1525.35,492.54 1526.17,492.36 1526.99,492.17 1527.81,491.99 1528.63,491.80 1529.45,491.61 1530.27,491.43 1531.09,491.24 1531.91,491.06 1532.73,490.87 1533.55,490.68 1534.37,490.50 1535.19,490.31 1536.01,490.12 1536.83,489.94 1537.65,489.75 1538.47,489.57 1539.29,489.38 1540.11,489.19 1540.93,489.01 1541.75,488.82 1542.57,488.64 1543.39,488.45 1544.21,488.26 1545.03,488.08 1545.85,487.89 1546.67,487.70 1547.49,487.52 1548.31,487.33 1549.13,487.15 1549.95,486.96 1550.77,486.77 1551.59,486.59 1552.41,486.40 1553.23,486.22 1554.05,486.03 1554.87,485.84 1555.69,485.66 1556.51,485.47 1557.33,485.28 1558.15,485.10 1558.97,484.91 1559.79,484.73 1560.61,484.54 1561.43,484.35 1562.25,484.17 1563.07,483.98 1563.89,483.80 1564.71,483.61 1565.53,483.42 1566.35,483.24 1567.17,483.05 1567.99,482.86 1568.81,482.68 1569.63,482.49 1570.45,482.31 1571.27,482.12 1572.09,481.93 1572.91,481.75 1573.73,481.56 1574.55,481.38 1575.37,481.19 1576.19,481.00 1577.01,480.82 1577.83,480.63 1578.65,480.45 1579.47,480.26 1580.29,480.07 1581.11,479.89 1581.93,479.70 1582.75,479.51 1583.57,479.33 1584.39,479.14 1585.21,478.96 1586.03,478.77 1586.85,478.58 1587.67,478.40 1588.49,478.21 1589.31,478.03 1590.13,477.84 1590.95,477.65 1591.77,477.47 1592.59,477.28 1593.41,477.09 1594.23,476.91 1595.05,476.72 1595.87,476.54 1596.69,476.35 1597.51,476.16 1598.33,475.98 1599.15,475.79 1599.97,475.61 1600.79,475.42 1601.61,475.23 1602.43,475.05 1603.25,474.86 1604.07,474.67 1604.89,474.49 1605.71,474.30 1606.53,474.12 1607.35,473.93 1608.17,473.74 1608.99,473.56 1609.81,473.37 1610.63,473.19 1611.45,473.00 1612.27,472.81 1613.09,472.63 1613.91,472.44 1614.73,472.25 1615.55,472.07 1616.37,471.88 1617.19,471.70 1618.01,471.51 1618.83,471.32 1619.65,471.14 1620.47,470.95 1621.29,470.77 1622.11,470.58 1622.93,470.39 1623.75,470.21 1624.57,470.02 1625.39,469.83 1626.21,469.65 1627.03,469.46 1627.85,469.28 1628.67,469.09 1629.49,468.90 1630.31,468.72 1631.13,468.53 1631.95,468.35 1632.77,468.16 1633.59,467.97 1634.41,467.79 1635.23,467.60 1636.05,467.41 1636.87,467.23 1637.69,467.04 1638.51,466.86 1639.33,466.67 1640.15,466.48 1640.97,466.30 1641.79,466.11 1642.61,465.93 1643.43,465.74 1644.25,465.55 1645.07,465.37 1645.89,465.18 1646.71,465.00 1647.53,464.81 1648.35,464.62 1649.17,464.44 1649.99,464.25 1650.81,464.06 1651.63,463.88 1652.45,463.69 1653.27,463.51 1654.09,463.32 1654.91,463.13 1655.73,462.95 1656.55,462.76 1657.37,462.58 1658.19,462.39 1659.01,462.20 1659.83,462.02 1660.65,461.83 1661.47,461.64 1662.29,461.46 1663.11,461.27 1663.93,461.09 1664.75,460.90 1665.57,460.71 1666.39,460.53 1667.21,460.34 1668.03,460.16 1668.85,459.97 1669.67,459.78 1670.49,459.60 1671.31,459.41 1672.13,459.22 1672.95,459.04 1673.77,458.85 1674.59,458.67 1675.41,458.48 1676.23,458.29 1677.05,458.11 1677.87,457.92 1678.69,457.74 1679.51,457.55 1680.33,457.36 1681.15,457.18 1681.97,456.99 1682.79,456.80 1683.61,456.62 1684.43,456.43 1685.25,456.25 1686.07,456.06 1686.89,455.87 1687.71,455.69 1688.53,455.50 1689.35,455.32 1690.17,455.13 1690.99,454.94 1691.81,454.76 1692.63,454.57 1693.45,454.38 1694.27,454.20 1695.09,454.01 1695.91,453.83 1696.73,453.64 1697.55,453.45 1698.37,452.21 1699.19,450.97 1700.01,449.73 1700.83,448.49 1701.65,447.25 1702.47,446.01 1703.29,444.77 1704.11,443.53 1704.93,442.29 1705.75,441.04 1706.57,439.80 1707.39,438.56 1708.21,437.32 1709.03,436.08 1709.85,434.84 1710.67,433.60 1711.49,432.36 1712.31,431.12 1713.13,429.88 1713.95,428.63 1714.77,427.39 1715.59,426.15 1716.41,424.91 1717.23,423.67 1718.05,422.43 1718.87,421.19 1719.69,419.95 1720.51,418.71 1721.33,417.47 1722.15,416.23 1722.97,414.98 1723.79,413.74 1724.61,412.50 1725.43,411.26 1726.25,410.02 1727.07,408.78 1727.89,407.54 1728.71,406.30 1729.53,405.06 1730.35,403.82 1731.17,402.57 1731.99,401.33 1732.81,400.09 1733.63,398.85 1734.45,397.61 1735.27,396.37 1736.09,395.13 1736.91,393.89 1737.73,392.65 1738.55,391.41 1739.37,390.16 1740.19,388.92 1741.01,387.68 1741.83,386.44 1742.65,385.20 1743.47,383.96 1744.29,382.72 1745.11,381.48 1745.93,380.24 1746.75,379.00 1747.57,377.75 1748.39,376.51 1749.21,375.27 1750.03,374.03 1750.85,372.79 1751.67,371.55 1752.49,370.31 1753.31,369.07 1754.13,367.83 1754.95,366.59 1755.77,365.35 1756.59,364.10 1757.41,362.86 1758.23,361.62 1759.05,360.38 1759.87,359.14 1760.69,357.90 1761.51,356.66 1762.33,355.42 1763.15,354.18 1763.97,352.94 1764.79,351.69 1765.61,350.45 1766.43,349.21 1767.25,347.97 1768.07,346.73 1768.89,345.49 1769.71,344.25 1770.53,343.01 1771.35,341.77 1772.17,340.53 1772.99,339.28 1773.81,338.04 1774.63,336.80 1775.45,335.56 1776.27,334.32 1777.09,333.08 1777.91,331.84 1778.73,330.60 1779.55,329.36 1780.37,328.12 1781.19,326.88 1782.01,325.63 1782.83,324.39 1783.65,323.15 1784.47,321.91 1785.29,320.67 1786.11,319.43 1786.93,318.19 1787.75,316.95 1788.57,315.71 1789.39,314.47 1790.21,313.22 1791.03,311.98 1791.85,310.74 1792.67,309.50 1793.49,308.26 1794.31,307.02 1795.13,305.78 1795.95,304.54 1796.77,303.30 1797.59,302.06 1798.41,300.81 1799.23,299.57 1800.05,298.33 1800.87,297.09 1801.69,295.85 1802.51,294.61 1803.33,293.37 1804.15,292.13 1804.97,290.89 1805.79,289.65 1806.61,288.41 1807.43,287.16 1808.25,285.92 1809.07,284.68 1809.89,283.44 1810.71,282.20 1811.53,280.96 1812.35,279.72 1813.17,278.48 1813.99,277.24 1814.81,276.00 1815.63,274.75 1816.45,273.51 1817.27,272.27 1818.09,271.03 1818.91,269.79 1819.73,268.55 1820.55,267.31 1821.37,266.07 1822.19,264.83 1823.01,263.59 1823.83,262.34 1824.65,261.10 1825.47,259.86 1826.29,258.62 1827.11,257.38 1827.93,256.14 1828.75,254.90 1829.57,253.66 1830.39,252.42 1831.21,251.18 1832.03,249.94 1832.85,248.69 1833.67,247.45 1834.49,246.21 1835.31,244.97 1836.13,243.73 1836.95,242.49 1837.77,241.25 1838.59,240.01 1839.41,238.77 1840.23,237.53 1841.05,236.28 1841.87,235.04 1842.69,233.80 1843.51,232.56 1844.33,231.32 1845.15,230.08 1845.97,228.84 1846.79,227.60 1847.61,226.36 1848.43,225.12 1849.25,223.88 1850.07,222.63 1850.89,221.39 1851.71,220.15 1852.53,218.91 1853.35,217.67 1854.17,216.43 1854.99,215.19 1855.81,213.95 1856.63,212.71 1857.45,211.47 1858.27,210.22 1859.09,208.98 1859.91,207.74 1860.73,206.50 1861.55,205.26 1862.37,204.02 1863.19,202.78 1864.01,201.54 1864.83,200.30 1865.65,199.06 1866.47,197.81 1867.29,196.57 1868.11,195.33 1868.93,194.09 1869.75,192.85 1870.57,191.61 1871.39,190.37 1872.21,189.13 1873.03,187.89 1873.85,186.65 1874.67,185.40 1875.49,184.16 1876.31,182.92 1877.13,181.68 1877.95,180.44 1878.77,179.20 1879.59,177.96 1880.41,176.72 1881.23,175.48 1882.05,174.24 1882.87,173.00 1883.69,171.75 1884.51,170.51 1885.33,169.27 1886.15,168.03 1886.97,166.79 1887.79,165.55 1888.61,164.31 1889.43,163.07 1890.25,161.83 1891.07,160.59 1891.89,159.34 1892.71,158.10 1893.53,156.86 1894.35,155.62 1895.17,154.38 1895.99,153.14 1896.81,151.90 1897.63,150.66 1898.45,149.42 1899.27,148.18 1900.09,146.94 1900.91,145.69 1901.73,144.45 1902.55,143.21" fill="none" stroke="#03544f" stroke-width="3.8" stroke-linejoin="round" stroke-linecap="butt"/>
<line x1="1492.55" y1="499.99" x2="1697.55" y2="453.45" stroke="#d23a34" stroke-width="2.2" stroke-dasharray="9.5 8.9"/>
</g>
<rect x="1492.55" y="127.70" width="410.00" height="384.70" fill="none" stroke="#6e7982" stroke-width="1.3"/>
<clipPath id="cp4"><rect x="-4.0" y="561.3" width="529.4" height="57.6"/></clipPath>
<g clip-path="url(#cp4)">
<text transform="translate(241.17 615.80) scale(0.8848 1.0300)" font-size="22" font-weight="bold" fill="#006e69">ELU</text>
</g>
<line x1="56.00" y1="927.31" x2="465.40" y2="927.31" stroke="#a9b0b7" stroke-width="1.35"/>
<line x1="260.70" y1="621.30" x2="260.70" y2="1006.00" stroke="#a9b0b7" stroke-width="1.35"/>
<line x1="56.00" y1="927.31" x2="60.50" y2="927.31" stroke="#6d777f" stroke-width="1.1"/>
<line x1="460.90" y1="927.31" x2="465.40" y2="927.31" stroke="#6d777f" stroke-width="1.1"/>
<text x="49.60" y="936.81" font-size="17" fill="#4e5a64" text-anchor="end">0</text>
<line x1="56.00" y1="810.74" x2="60.50" y2="810.74" stroke="#6d777f" stroke-width="1.1"/>
<line x1="460.90" y1="810.74" x2="465.40" y2="810.74" stroke="#6d777f" stroke-width="1.1"/>
<text x="49.60" y="820.24" font-size="17" fill="#4e5a64" text-anchor="end">2</text>
<line x1="56.00" y1="694.16" x2="60.50" y2="694.16" stroke="#6d777f" stroke-width="1.1"/>
<line x1="460.90" y1="694.16" x2="465.40" y2="694.16" stroke="#6d777f" stroke-width="1.1"/>
<text x="49.60" y="703.66" font-size="17" fill="#4e5a64" text-anchor="end">4</text>
<text x="56.00" y="1033.30" font-size="17" fill="#4e5a64" text-anchor="middle">-5</text>
<text x="260.70" y="1033.30" font-size="17" fill="#4e5a64" text-anchor="middle">0</text>
<text x="465.40" y="1033.30" font-size="17" fill="#4e5a64" text-anchor="middle">5</text>
<text transform="translate(255.83 1065.45) scale(1.0824 1.0000)" font-size="18" font-weight="normal" fill="#4e5a64" stroke="#4e5a64" stroke-width="0.55">x</text>
<text transform="translate(26.80 827.82) rotate(-90) scale(1.0857 1)" font-size="18" fill="#4e5a64" stroke="#4e5a64" stroke-width="0.55">f(x)</text>
<text x="70.25" y="676.15" font-size="15" font-weight="normal" fill="#2b333d">负半轴指数平滑</text>
<clipPath id="pc4"><rect x="56.00" y="621.30" width="409.40" height="384.70"/></clipPath>
<g clip-path="url(#pc4)">
<polyline points="56.00,985.21 56.82,985.20 57.64,985.19 58.46,985.18 59.28,985.17 60.09,985.17 60.91,985.16 61.73,985.15 62.55,985.14 63.37,985.13 64.19,985.12 65.01,985.11 65.83,985.10 66.64,985.09 67.46,985.08 68.28,985.07 69.10,985.06 69.92,985.05 70.74,985.04 71.56,985.02 72.38,985.01 73.19,985.00 74.01,984.99 74.83,984.98 75.65,984.96 76.47,984.95 77.29,984.94 78.11,984.93 78.93,984.91 79.75,984.90 80.56,984.88 81.38,984.87 82.20,984.85 83.02,984.84 83.84,984.82 84.66,984.81 85.48,984.79 86.30,984.78 87.11,984.76 87.93,984.74 88.75,984.73 89.57,984.71 90.39,984.69 91.21,984.67 92.03,984.65 92.85,984.63 93.66,984.61 94.48,984.59 95.30,984.57 96.12,984.55 96.94,984.53 97.76,984.51 98.58,984.49 99.40,984.47 100.22,984.44 101.03,984.42 101.85,984.40 102.67,984.37 103.49,984.35 104.31,984.32 105.13,984.30 105.95,984.27 106.77,984.24 107.58,984.21 108.40,984.19 109.22,984.16 110.04,984.13 110.86,984.10 111.68,984.07 112.50,984.04 113.32,984.01 114.13,983.97 114.95,983.94 115.77,983.91 116.59,983.87 117.41,983.84 118.23,983.80 119.05,983.77 119.87,983.73 120.69,983.69 121.50,983.65 122.32,983.61 123.14,983.57 123.96,983.53 124.78,983.49 125.60,983.45 126.42,983.41 127.24,983.36 128.05,983.32 128.87,983.27 129.69,983.22 130.51,983.18 131.33,983.13 132.15,983.08 132.97,983.03 133.79,982.97 134.60,982.92 135.42,982.87 136.24,982.81 137.06,982.75 137.88,982.70 138.70,982.64 139.52,982.58 140.34,982.52 141.16,982.46 141.97,982.39 142.79,982.33 143.61,982.26 144.43,982.19 145.25,982.12 146.07,982.05 146.89,981.98 147.71,981.91 148.52,981.84 149.34,981.76 150.16,981.68 150.98,981.60 151.80,981.52 152.62,981.44 153.44,981.36 154.26,981.27 155.07,981.18 155.89,981.09 156.71,981.00 157.53,980.91 158.35,980.81 159.17,980.72 159.99,980.62 160.81,980.52 161.63,980.42 162.44,980.31 163.26,980.20 164.08,980.10 164.90,979.98 165.72,979.87 166.54,979.76 167.36,979.64 168.18,979.52 168.99,979.39 169.81,979.27 170.63,979.14 171.45,979.01 172.27,978.88 173.09,978.74 173.91,978.60 174.73,978.46 175.54,978.32 176.36,978.17 177.18,978.02 178.00,977.87 178.82,977.71 179.64,977.55 180.46,977.39 181.28,977.22 182.10,977.05 182.91,976.88 183.73,976.71 184.55,976.53 185.37,976.34 186.19,976.16 187.01,975.96 187.83,975.77 188.65,975.57 189.46,975.37 190.28,975.16 191.10,974.95 191.92,974.74 192.74,974.52 193.56,974.29 194.38,974.06 195.20,973.83 196.01,973.59 196.83,973.35 197.65,973.10 198.47,972.85 199.29,972.59 200.11,972.33 200.93,972.06 201.75,971.79 202.57,971.51 203.38,971.23 204.20,970.94 205.02,970.64 205.84,970.34 206.66,970.03 207.48,969.71 208.30,969.39 209.12,969.07 209.93,968.73 210.75,968.39 211.57,968.04 212.39,967.69 213.21,967.33 214.03,966.96 214.85,966.58 215.67,966.20 216.48,965.80 217.30,965.41 218.12,965.00 218.94,964.58 219.76,964.16 220.58,963.72 221.40,963.28 222.22,962.83 223.04,962.37 223.85,961.90 224.67,961.42 225.49,960.93 226.31,960.44 227.13,959.93 227.95,959.41 228.77,958.88 229.59,958.34 230.40,957.79 231.22,957.23 232.04,956.65 232.86,956.07 233.68,955.47 234.50,954.86 235.32,954.24 236.14,953.61 236.95,952.96 237.77,952.30 238.59,951.63 239.41,950.95 240.23,950.25 241.05,949.53 241.87,948.80 242.69,948.06 243.51,947.30 244.32,946.53 245.14,945.74 245.96,944.93 246.78,944.11 247.60,943.27 248.42,942.42 249.24,941.55 250.06,940.66 250.87,939.75 251.69,938.82 252.51,937.88 253.33,936.91 254.15,935.93 254.97,934.93 255.79,933.90 256.61,932.86 257.42,931.79 258.24,930.71 259.06,929.60 259.88,928.47 260.70,927.31 261.52,926.15 262.34,924.98 263.16,923.81 263.98,922.65 264.79,921.48 265.61,920.32 266.43,919.15 267.25,917.99 268.07,916.82 268.89,915.65 269.71,914.49 270.53,913.32 271.34,912.16 272.16,910.99 272.98,909.83 273.80,908.66 274.62,907.49 275.44,906.33 276.26,905.16 277.08,904.00 277.89,902.83 278.71,901.66 279.53,900.50 280.35,899.33 281.17,898.17 281.99,897.00 282.81,895.84 283.63,894.67 284.45,893.50 285.26,892.34 286.08,891.17 286.90,890.01 287.72,888.84 288.54,887.68 289.36,886.51 290.18,885.34 291.00,884.18 291.81,883.01 292.63,881.85 293.45,880.68 294.27,879.52 295.09,878.35 295.91,877.18 296.73,876.02 297.55,874.85 298.36,873.69 299.18,872.52 300.00,871.36 300.82,870.19 301.64,869.02 302.46,867.86 303.28,866.69 304.10,865.53 304.92,864.36 305.73,863.19 306.55,862.03 307.37,860.86 308.19,859.70 309.01,858.53 309.83,857.37 310.65,856.20 311.47,855.03 312.28,853.87 313.10,852.70 313.92,851.54 314.74,850.37 315.56,849.21 316.38,848.04 317.20,846.87 318.02,845.71 318.83,844.54 319.65,843.38 320.47,842.21 321.29,841.05 322.11,839.88 322.93,838.71 323.75,837.55 324.57,836.38 325.39,835.22 326.20,834.05 327.02,832.88 327.84,831.72 328.66,830.55 329.48,829.39 330.30,828.22 331.12,827.06 331.94,825.89 332.75,824.72 333.57,823.56 334.39,822.39 335.21,821.23 336.03,820.06 336.85,818.90 337.67,817.73 338.49,816.56 339.30,815.40 340.12,814.23 340.94,813.07 341.76,811.90 342.58,810.74 343.40,809.57 344.22,808.40 345.04,807.24 345.86,806.07 346.67,804.91 347.49,803.74 348.31,802.58 349.13,801.41 349.95,800.24 350.77,799.08 351.59,797.91 352.41,796.75 353.22,795.58 354.04,794.41 354.86,793.25 355.68,792.08 356.50,790.92 357.32,789.75 358.14,788.59 358.96,787.42 359.77,786.25 360.59,785.09 361.41,783.92 362.23,782.76 363.05,781.59 363.87,780.43 364.69,779.26 365.51,778.09 366.33,776.93 367.14,775.76 367.96,774.60 368.78,773.43 369.60,772.27 370.42,771.10 371.24,769.93 372.06,768.77 372.88,767.60 373.69,766.44 374.51,765.27 375.33,764.11 376.15,762.94 376.97,761.77 377.79,760.61 378.61,759.44 379.43,758.28 380.24,757.11 381.06,755.94 381.88,754.78 382.70,753.61 383.52,752.45 384.34,751.28 385.16,750.12 385.98,748.95 386.80,747.78 387.61,746.62 388.43,745.45 389.25,744.29 390.07,743.12 390.89,741.96 391.71,740.79 392.53,739.62 393.35,738.46 394.16,737.29 394.98,736.13 395.80,734.96 396.62,733.80 397.44,732.63 398.26,731.46 399.08,730.30 399.90,729.13 400.71,727.97 401.53,726.80 402.35,725.64 403.17,724.47 403.99,723.30 404.81,722.14 405.63,720.97 406.45,719.81 407.27,718.64 408.08,717.48 408.90,716.31 409.72,715.14 410.54,713.98 411.36,712.81 412.18,711.65 413.00,710.48 413.82,709.31 414.63,708.15 415.45,706.98 416.27,705.82 417.09,704.65 417.91,703.49 418.73,702.32 419.55,701.15 420.37,699.99 421.18,698.82 422.00,697.66 422.82,696.49 423.64,695.33 424.46,694.16 425.28,692.99 426.10,691.83 426.92,690.66 427.74,689.50 428.55,688.33 429.37,687.17 430.19,686.00 431.01,684.83 431.83,683.67 432.65,682.50 433.47,681.34 434.29,680.17 435.10,679.00 435.92,677.84 436.74,676.67 437.56,675.51 438.38,674.34 439.20,673.18 440.02,672.01 440.84,670.84 441.65,669.68 442.47,668.51 443.29,667.35 444.11,666.18 444.93,665.02 445.75,663.85 446.57,662.68 447.39,661.52 448.21,660.35 449.02,659.19 449.84,658.02 450.66,656.86 451.48,655.69 452.30,654.52 453.12,653.36 453.94,652.19 454.76,651.03 455.57,649.86 456.39,648.70 457.21,647.53 458.03,646.36 458.85,645.20 459.67,644.03 460.49,642.87 461.31,641.70 462.12,640.54 462.94,639.37 463.76,638.20 464.58,637.04 465.40,635.87" fill="none" stroke="#03544f" stroke-width="3.8" stroke-linejoin="round" stroke-linecap="butt"/>
<circle cx="260.70" cy="927.31" r="3.9" fill="#f6bd3d" stroke="#fff" stroke-width="1.3"/>
</g>
<rect x="56.00" y="621.30" width="409.40" height="384.70" fill="none" stroke="#6e7982" stroke-width="1.3"/>
<clipPath id="cp5"><rect x="474.9" y="561.3" width="529.4" height="57.6"/></clipPath>
<g clip-path="url(#cp5)">
<text transform="translate(712.86 615.80) scale(0.8860 1.0300)" font-size="22" font-weight="bold" fill="#006e69">GELU</text>
</g>
<line x1="534.85" y1="947.05" x2="944.25" y2="947.05" stroke="#a9b0b7" stroke-width="1.35"/>
<line x1="739.55" y1="621.30" x2="739.55" y2="1006.00" stroke="#a9b0b7" stroke-width="1.35"/>
<line x1="534.85" y1="947.05" x2="539.35" y2="947.05" stroke="#6d777f" stroke-width="1.1"/>
<line x1="939.75" y1="947.05" x2="944.25" y2="947.05" stroke="#6d777f" stroke-width="1.1"/>
<text x="528.45" y="956.55" font-size="17" fill="#4e5a64" text-anchor="end">0</text>
<line x1="534.85" y1="822.96" x2="539.35" y2="822.96" stroke="#6d777f" stroke-width="1.1"/>
<line x1="939.75" y1="822.96" x2="944.25" y2="822.96" stroke="#6d777f" stroke-width="1.1"/>
<text x="528.45" y="832.46" font-size="17" fill="#4e5a64" text-anchor="end">2</text>
<line x1="534.85" y1="698.86" x2="539.35" y2="698.86" stroke="#6d777f" stroke-width="1.1"/>
<line x1="939.75" y1="698.86" x2="944.25" y2="698.86" stroke="#6d777f" stroke-width="1.1"/>
<text x="528.45" y="708.36" font-size="17" fill="#4e5a64" text-anchor="end">4</text>
<text x="534.85" y="1033.30" font-size="17" fill="#4e5a64" text-anchor="middle">-5</text>
<text x="739.55" y="1033.30" font-size="17" fill="#4e5a64" text-anchor="middle">0</text>
<text x="944.25" y="1033.30" font-size="17" fill="#4e5a64" text-anchor="middle">5</text>
<text transform="translate(734.68 1065.45) scale(1.0824 1.0000)" font-size="18" font-weight="normal" fill="#4e5a64" stroke="#4e5a64" stroke-width="0.55">x</text>
<text transform="translate(505.65 827.82) rotate(-90) scale(1.0857 1)" font-size="18" fill="#4e5a64" stroke="#4e5a64" stroke-width="0.55">f(x)</text>
<text transform="translate(549.73 676.60) scale(1.0770 1.0300)" font-size="15" font-weight="normal" fill="#2b333d">Transformer</text>
<text x="640.85" y="676.15" font-size="15" font-weight="normal" fill="#2b333d">常用</text>
<clipPath id="pc5"><rect x="534.85" y="621.30" width="409.40" height="384.70"/></clipPath>
<g clip-path="url(#pc5)">
<polyline points="534.85,947.05 535.67,947.05 536.49,947.05 537.31,947.05 538.13,947.05 538.94,947.05 539.76,947.05 540.58,947.05 541.40,947.05 542.22,947.05 543.04,947.05 543.86,947.05 544.68,947.05 545.49,947.05 546.31,947.05 547.13,947.05 547.95,947.05 548.77,947.05 549.59,947.05 550.41,947.05 551.23,947.05 552.04,947.05 552.86,947.05 553.68,947.05 554.50,947.05 555.32,947.05 556.14,947.06 556.96,947.06 557.78,947.06 558.60,947.06 559.41,947.06 560.23,947.06 561.05,947.06 561.87,947.06 562.69,947.06 563.51,947.06 564.33,947.06 565.15,947.06 565.96,947.06 566.78,947.06 567.60,947.06 568.42,947.06 569.24,947.06 570.06,947.06 570.88,947.06 571.70,947.06 572.51,947.06 573.33,947.06 574.15,947.06 574.97,947.06 575.79,947.06 576.61,947.06 577.43,947.06 578.25,947.06 579.07,947.06 579.88,947.07 580.70,947.07 581.52,947.07 582.34,947.07 583.16,947.07 583.98,947.07 584.80,947.07 585.62,947.07 586.43,947.08 587.25,947.08 588.07,947.08 588.89,947.08 589.71,947.08 590.53,947.08 591.35,947.09 592.17,947.09 592.98,947.09 593.80,947.09 594.62,947.10 595.44,947.10 596.26,947.10 597.08,947.11 597.90,947.11 598.72,947.12 599.54,947.12 600.35,947.13 601.17,947.13 601.99,947.14 602.81,947.14 603.63,947.15 604.45,947.15 605.27,947.16 606.09,947.17 606.90,947.17 607.72,947.18 608.54,947.19 609.36,947.20 610.18,947.21 611.00,947.22 611.82,947.23 612.64,947.24 613.45,947.25 614.27,947.26 615.09,947.28 615.91,947.29 616.73,947.31 617.55,947.32 618.37,947.34 619.19,947.35 620.01,947.37 620.82,947.39 621.64,947.41 622.46,947.43 623.28,947.45 624.10,947.47 624.92,947.50 625.74,947.52 626.56,947.55 627.37,947.58 628.19,947.60 629.01,947.63 629.83,947.67 630.65,947.70 631.47,947.73 632.29,947.77 633.11,947.81 633.92,947.84 634.74,947.89 635.56,947.93 636.38,947.97 637.20,948.02 638.02,948.06 638.84,948.11 639.66,948.17 640.48,948.22 641.29,948.27 642.11,948.33 642.93,948.39 643.75,948.45 644.57,948.52 645.39,948.58 646.21,948.65 647.03,948.72 647.84,948.80 648.66,948.87 649.48,948.95 650.30,949.03 651.12,949.12 651.94,949.20 652.76,949.29 653.58,949.38 654.39,949.48 655.21,949.57 656.03,949.67 656.85,949.77 657.67,949.88 658.49,949.98 659.31,950.09 660.13,950.21 660.95,950.32 661.76,950.44 662.58,950.56 663.40,950.68 664.22,950.81 665.04,950.94 665.86,951.07 666.68,951.20 667.50,951.34 668.31,951.47 669.13,951.61 669.95,951.75 670.77,951.90 671.59,952.05 672.41,952.19 673.23,952.34 674.05,952.49 674.86,952.65 675.68,952.80 676.50,952.96 677.32,953.11 678.14,953.27 678.96,953.43 679.78,953.59 680.60,953.75 681.42,953.91 682.23,954.07 683.05,954.23 683.87,954.39 684.69,954.55 685.51,954.71 686.33,954.86 687.15,955.02 687.97,955.17 688.78,955.32 689.60,955.47 690.42,955.62 691.24,955.77 692.06,955.91 692.88,956.05 693.70,956.18 694.52,956.31 695.33,956.44 696.15,956.56 696.97,956.68 697.79,956.79 698.61,956.90 699.43,957.00 700.25,957.09 701.07,957.18 701.89,957.26 702.70,957.33 703.52,957.40 704.34,957.45 705.16,957.50 705.98,957.54 706.80,957.57 707.62,957.59 708.44,957.60 709.25,957.60 710.07,957.59 710.89,957.56 711.71,957.53 712.53,957.48 713.35,957.42 714.17,957.35 714.99,957.26 715.80,957.17 716.62,957.05 717.44,956.92 718.26,956.78 719.08,956.63 719.90,956.45 720.72,956.27 721.54,956.06 722.36,955.84 723.17,955.61 723.99,955.35 724.81,955.08 725.63,954.79 726.45,954.49 727.27,954.17 728.09,953.83 728.91,953.47 729.72,953.09 730.54,952.69 731.36,952.28 732.18,951.84 733.00,951.39 733.82,950.91 734.64,950.42 735.46,949.91 736.27,949.38 737.09,948.83 737.91,948.26 738.73,947.66 739.55,947.05 740.37,946.42 741.19,945.77 742.01,945.10 742.83,944.41 743.64,943.70 744.46,942.98 745.28,942.23 746.10,941.46 746.92,940.67 747.74,939.87 748.56,939.04 749.38,938.20 750.19,937.33 751.01,936.45 751.83,935.55 752.65,934.63 753.47,933.70 754.29,932.75 755.11,931.77 755.93,930.79 756.74,929.78 757.56,928.76 758.38,927.72 759.20,926.67 760.02,925.60 760.84,924.52 761.66,923.42 762.48,922.31 763.30,921.18 764.11,920.04 764.93,918.88 765.75,917.71 766.57,916.53 767.39,915.34 768.21,914.13 769.03,912.91 769.85,911.68 770.66,910.44 771.48,909.19 772.30,907.93 773.12,906.66 773.94,905.38 774.76,904.09 775.58,902.79 776.40,901.49 777.21,900.18 778.03,898.85 778.85,897.53 779.67,896.19 780.49,894.85 781.31,893.50 782.13,892.15 782.95,890.79 783.77,889.43 784.58,888.06 785.40,886.69 786.22,885.31 787.04,883.93 787.86,882.55 788.68,881.16 789.50,879.78 790.32,878.38 791.13,876.99 791.95,875.60 792.77,874.20 793.59,872.80 794.41,871.40 795.23,870.00 796.05,868.60 796.87,867.20 797.68,865.80 798.50,864.40 799.32,863.00 800.14,861.60 800.96,860.20 801.78,858.80 802.60,857.40 803.42,856.01 804.24,854.61 805.05,853.22 805.87,851.82 806.69,850.43 807.51,849.04 808.33,847.66 809.15,846.27 809.97,844.89 810.79,843.51 811.60,842.13 812.42,840.75 813.24,839.38 814.06,838.01 814.88,836.64 815.70,835.27 816.52,833.91 817.34,832.55 818.15,831.19 818.97,829.83 819.79,828.48 820.61,827.13 821.43,825.78 822.25,824.44 823.07,823.09 823.89,821.75 824.71,820.41 825.52,819.08 826.34,817.75 827.16,816.42 827.98,815.09 828.80,813.77 829.62,812.45 830.44,811.13 831.26,809.81 832.07,808.49 832.89,807.18 833.71,805.87 834.53,804.57 835.35,803.26 836.17,801.96 836.99,800.66 837.81,799.36 838.62,798.06 839.44,796.77 840.26,795.48 841.08,794.18 841.90,792.90 842.72,791.61 843.54,790.32 844.36,789.04 845.18,787.76 845.99,786.48 846.81,785.20 847.63,783.93 848.45,782.65 849.27,781.38 850.09,780.10 850.91,778.83 851.73,777.56 852.54,776.30 853.36,775.03 854.18,773.76 855.00,772.50 855.82,771.23 856.64,769.97 857.46,768.71 858.28,767.45 859.09,766.19 859.91,764.93 860.73,763.67 861.55,762.42 862.37,761.16 863.19,759.90 864.01,758.65 864.83,757.40 865.65,756.14 866.46,754.89 867.28,753.64 868.10,752.39 868.92,751.14 869.74,749.89 870.56,748.64 871.38,747.39 872.20,746.14 873.01,744.89 873.83,743.64 874.65,742.39 875.47,741.15 876.29,739.90 877.11,738.65 877.93,737.41 878.75,736.16 879.56,734.91 880.38,733.67 881.20,732.42 882.02,731.18 882.84,729.94 883.66,728.69 884.48,727.45 885.30,726.20 886.12,724.96 886.93,723.72 887.75,722.47 888.57,721.23 889.39,719.99 890.21,718.74 891.03,717.50 891.85,716.26 892.67,715.01 893.48,713.77 894.30,712.53 895.12,711.29 895.94,710.05 896.76,708.80 897.58,707.56 898.40,706.32 899.22,705.08 900.03,703.84 900.85,702.59 901.67,701.35 902.49,700.11 903.31,698.87 904.13,697.63 904.95,696.39 905.77,695.14 906.59,693.90 907.40,692.66 908.22,691.42 909.04,690.18 909.86,688.94 910.68,687.70 911.50,686.45 912.32,685.21 913.14,683.97 913.95,682.73 914.77,681.49 915.59,680.25 916.41,679.01 917.23,677.77 918.05,676.52 918.87,675.28 919.69,674.04 920.50,672.80 921.32,671.56 922.14,670.32 922.96,669.08 923.78,667.84 924.60,666.60 925.42,665.36 926.24,664.11 927.06,662.87 927.87,661.63 928.69,660.39 929.51,659.15 930.33,657.91 931.15,656.67 931.97,655.43 932.79,654.19 933.61,652.94 934.42,651.70 935.24,650.46 936.06,649.22 936.88,647.98 937.70,646.74 938.52,645.50 939.34,644.26 940.16,643.02 940.97,641.78 941.79,640.54 942.61,639.29 943.43,638.05 944.25,636.81" fill="none" stroke="#03544f" stroke-width="3.8" stroke-linejoin="round" stroke-linecap="butt"/>
</g>
<rect x="534.85" y="621.30" width="409.40" height="384.70" fill="none" stroke="#6e7982" stroke-width="1.3"/>
<clipPath id="cp6"><rect x="954.0" y="561.3" width="529.3" height="57.6"/></clipPath>
<g clip-path="url(#cp6)">
<text transform="translate(1156.39 615.80) scale(0.9454 1.0300)" font-size="22" font-weight="bold" fill="#006e69">Swish / SiLU</text>
</g>
<line x1="1014.00" y1="922.74" x2="1423.30" y2="922.74" stroke="#a9b0b7" stroke-width="1.35"/>
<line x1="1218.65" y1="621.30" x2="1218.65" y2="1006.00" stroke="#a9b0b7" stroke-width="1.35"/>
<line x1="1014.00" y1="922.74" x2="1018.50" y2="922.74" stroke="#6d777f" stroke-width="1.1"/>
<line x1="1418.80" y1="922.74" x2="1423.30" y2="922.74" stroke="#6d777f" stroke-width="1.1"/>
<text x="1007.60" y="932.24" font-size="17" fill="#4e5a64" text-anchor="end">0</text>
<line x1="1014.00" y1="807.91" x2="1018.50" y2="807.91" stroke="#6d777f" stroke-width="1.1"/>
<line x1="1418.80" y1="807.91" x2="1423.30" y2="807.91" stroke="#6d777f" stroke-width="1.1"/>
<text x="1007.60" y="817.41" font-size="17" fill="#4e5a64" text-anchor="end">2</text>
<line x1="1014.00" y1="693.07" x2="1018.50" y2="693.07" stroke="#6d777f" stroke-width="1.1"/>
<line x1="1418.80" y1="693.07" x2="1423.30" y2="693.07" stroke="#6d777f" stroke-width="1.1"/>
<text x="1007.60" y="702.57" font-size="17" fill="#4e5a64" text-anchor="end">4</text>
<text x="1014.00" y="1033.30" font-size="17" fill="#4e5a64" text-anchor="middle">-5</text>
<text x="1218.65" y="1033.30" font-size="17" fill="#4e5a64" text-anchor="middle">0</text>
<text x="1423.30" y="1033.30" font-size="17" fill="#4e5a64" text-anchor="middle">5</text>
<text transform="translate(1213.78 1065.45) scale(1.0824 1.0000)" font-size="18" font-weight="normal" fill="#4e5a64" stroke="#4e5a64" stroke-width="0.55">x</text>
<text transform="translate(984.80 827.82) rotate(-90) scale(1.0857 1)" font-size="18" fill="#4e5a64" stroke="#4e5a64" stroke-width="0.55">f(x)</text>
<text x="1028.50" y="676.15" font-size="15" font-weight="normal" fill="#2b333d">平滑软门控</text>
<clipPath id="pc6"><rect x="1014.00" y="621.30" width="409.30" height="384.70"/></clipPath>
<g clip-path="url(#pc6)">
<polyline points="1014.00,924.67 1014.82,924.70 1015.64,924.73 1016.46,924.76 1017.27,924.79 1018.09,924.82 1018.91,924.86 1019.73,924.89 1020.55,924.92 1021.37,924.96 1022.19,924.99 1023.00,925.03 1023.82,925.07 1024.64,925.10 1025.46,925.14 1026.28,925.18 1027.10,925.21 1027.92,925.25 1028.73,925.29 1029.55,925.33 1030.37,925.37 1031.19,925.41 1032.01,925.45 1032.83,925.50 1033.65,925.54 1034.46,925.58 1035.28,925.63 1036.10,925.67 1036.92,925.72 1037.74,925.76 1038.56,925.81 1039.38,925.86 1040.20,925.90 1041.01,925.95 1041.83,926.00 1042.65,926.05 1043.47,926.10 1044.29,926.15 1045.11,926.20 1045.93,926.25 1046.74,926.31 1047.56,926.36 1048.38,926.41 1049.20,926.47 1050.02,926.53 1050.84,926.58 1051.66,926.64 1052.47,926.70 1053.29,926.76 1054.11,926.81 1054.93,926.87 1055.75,926.94 1056.57,927.00 1057.39,927.06 1058.20,927.12 1059.02,927.19 1059.84,927.25 1060.66,927.32 1061.48,927.38 1062.30,927.45 1063.12,927.52 1063.93,927.59 1064.75,927.66 1065.57,927.73 1066.39,927.80 1067.21,927.87 1068.03,927.94 1068.85,928.02 1069.66,928.09 1070.48,928.17 1071.30,928.24 1072.12,928.32 1072.94,928.40 1073.76,928.47 1074.58,928.55 1075.39,928.63 1076.21,928.72 1077.03,928.80 1077.85,928.88 1078.67,928.96 1079.49,929.05 1080.31,929.13 1081.13,929.22 1081.94,929.31 1082.76,929.40 1083.58,929.48 1084.40,929.57 1085.22,929.66 1086.04,929.76 1086.86,929.85 1087.67,929.94 1088.49,930.03 1089.31,930.13 1090.13,930.22 1090.95,930.32 1091.77,930.42 1092.59,930.51 1093.40,930.61 1094.22,930.71 1095.04,930.81 1095.86,930.91 1096.68,931.01 1097.50,931.12 1098.32,931.22 1099.13,931.32 1099.95,931.43 1100.77,931.53 1101.59,931.64 1102.41,931.75 1103.23,931.85 1104.05,931.96 1104.86,932.07 1105.68,932.18 1106.50,932.29 1107.32,932.40 1108.14,932.51 1108.96,932.62 1109.78,932.73 1110.59,932.84 1111.41,932.95 1112.23,933.07 1113.05,933.18 1113.87,933.29 1114.69,933.41 1115.51,933.52 1116.33,933.63 1117.14,933.75 1117.96,933.86 1118.78,933.98 1119.60,934.09 1120.42,934.21 1121.24,934.32 1122.06,934.43 1122.87,934.55 1123.69,934.66 1124.51,934.78 1125.33,934.89 1126.15,935.01 1126.97,935.12 1127.79,935.23 1128.60,935.34 1129.42,935.46 1130.24,935.57 1131.06,935.68 1131.88,935.79 1132.70,935.90 1133.52,936.01 1134.33,936.12 1135.15,936.22 1135.97,936.33 1136.79,936.43 1137.61,936.54 1138.43,936.64 1139.25,936.74 1140.06,936.84 1140.88,936.94 1141.70,937.03 1142.52,937.13 1143.34,937.22 1144.16,937.31 1144.98,937.40 1145.79,937.49 1146.61,937.58 1147.43,937.66 1148.25,937.74 1149.07,937.82 1149.89,937.90 1150.71,937.97 1151.52,938.04 1152.34,938.11 1153.16,938.18 1153.98,938.24 1154.80,938.30 1155.62,938.35 1156.44,938.41 1157.26,938.46 1158.07,938.50 1158.89,938.54 1159.71,938.58 1160.53,938.62 1161.35,938.65 1162.17,938.67 1162.99,938.69 1163.80,938.71 1164.62,938.72 1165.44,938.73 1166.26,938.73 1167.08,938.73 1167.90,938.72 1168.72,938.71 1169.53,938.69 1170.35,938.67 1171.17,938.64 1171.99,938.61 1172.81,938.56 1173.63,938.52 1174.45,938.46 1175.26,938.40 1176.08,938.34 1176.90,938.27 1177.72,938.19 1178.54,938.10 1179.36,938.01 1180.18,937.91 1180.99,937.80 1181.81,937.68 1182.63,937.56 1183.45,937.43 1184.27,937.29 1185.09,937.14 1185.91,936.98 1186.72,936.82 1187.54,936.65 1188.36,936.47 1189.18,936.28 1190.00,936.08 1190.82,935.87 1191.64,935.66 1192.45,935.43 1193.27,935.20 1194.09,934.95 1194.91,934.70 1195.73,934.43 1196.55,934.16 1197.37,933.88 1198.18,933.58 1199.00,933.28 1199.82,932.97 1200.64,932.64 1201.46,932.31 1202.28,931.96 1203.10,931.61 1203.92,931.24 1204.73,930.86 1205.55,930.47 1206.37,930.07 1207.19,929.66 1208.01,929.24 1208.83,928.81 1209.65,928.37 1210.46,927.91 1211.28,927.45 1212.10,926.97 1212.92,926.48 1213.74,925.98 1214.56,925.47 1215.38,924.95 1216.19,924.41 1217.01,923.87 1217.83,923.31 1218.65,922.74 1219.47,922.16 1220.29,921.57 1221.11,920.97 1221.92,920.36 1222.74,919.73 1223.56,919.09 1224.38,918.44 1225.20,917.78 1226.02,917.11 1226.84,916.43 1227.65,915.74 1228.47,915.03 1229.29,914.31 1230.11,913.59 1230.93,912.85 1231.75,912.10 1232.57,911.34 1233.38,910.57 1234.20,909.79 1235.02,908.99 1235.84,908.19 1236.66,907.38 1237.48,906.55 1238.30,905.72 1239.12,904.87 1239.93,904.02 1240.75,903.15 1241.57,902.28 1242.39,901.39 1243.21,900.50 1244.03,899.60 1244.85,898.68 1245.66,897.76 1246.48,896.83 1247.30,895.89 1248.12,894.94 1248.94,893.98 1249.76,893.01 1250.58,892.04 1251.39,891.05 1252.21,890.06 1253.03,889.06 1253.85,888.05 1254.67,887.03 1255.49,886.00 1256.31,884.97 1257.12,883.93 1257.94,882.88 1258.76,881.83 1259.58,880.77 1260.40,879.70 1261.22,878.62 1262.04,877.54 1262.85,876.45 1263.67,875.36 1264.49,874.26 1265.31,873.15 1266.13,872.04 1266.95,870.92 1267.77,869.79 1268.58,868.66 1269.40,867.53 1270.22,866.38 1271.04,865.24 1271.86,864.09 1272.68,862.93 1273.50,861.77 1274.31,860.60 1275.13,859.43 1275.95,858.26 1276.77,857.08 1277.59,855.90 1278.41,854.71 1279.23,853.52 1280.05,852.33 1280.86,851.13 1281.68,849.93 1282.50,848.73 1283.32,847.52 1284.14,846.31 1284.96,845.09 1285.78,843.88 1286.59,842.66 1287.41,841.44 1288.23,840.21 1289.05,838.98 1289.87,837.75 1290.69,836.52 1291.51,835.29 1292.32,834.05 1293.14,832.81 1293.96,831.57 1294.78,830.33 1295.60,829.09 1296.42,827.84 1297.24,826.60 1298.05,825.35 1298.87,824.10 1299.69,822.85 1300.51,821.60 1301.33,820.34 1302.15,819.09 1302.97,817.83 1303.78,816.58 1304.60,815.32 1305.42,814.06 1306.24,812.80 1307.06,811.55 1307.88,810.29 1308.70,809.03 1309.51,807.76 1310.33,806.50 1311.15,805.24 1311.97,803.98 1312.79,802.72 1313.61,801.45 1314.43,800.19 1315.24,798.93 1316.06,797.67 1316.88,796.40 1317.70,795.14 1318.52,793.88 1319.34,792.61 1320.16,791.35 1320.97,790.09 1321.79,788.83 1322.61,787.56 1323.43,786.30 1324.25,785.04 1325.07,783.78 1325.89,782.52 1326.71,781.26 1327.52,780.00 1328.34,778.74 1329.16,777.48 1329.98,776.22 1330.80,774.96 1331.62,773.70 1332.44,772.45 1333.25,771.19 1334.07,769.93 1334.89,768.68 1335.71,767.42 1336.53,766.17 1337.35,764.92 1338.17,763.66 1338.98,762.41 1339.80,761.16 1340.62,759.91 1341.44,758.66 1342.26,757.41 1343.08,756.16 1343.90,754.91 1344.71,753.67 1345.53,752.42 1346.35,751.18 1347.17,749.93 1347.99,748.69 1348.81,747.44 1349.63,746.20 1350.44,744.96 1351.26,743.72 1352.08,742.48 1352.90,741.24 1353.72,740.00 1354.54,738.77 1355.36,737.53 1356.17,736.30 1356.99,735.06 1357.81,733.83 1358.63,732.60 1359.45,731.36 1360.27,730.13 1361.09,728.90 1361.90,727.67 1362.72,726.44 1363.54,725.22 1364.36,723.99 1365.18,722.76 1366.00,721.54 1366.82,720.31 1367.64,719.09 1368.45,717.87 1369.27,716.64 1370.09,715.42 1370.91,714.20 1371.73,712.98 1372.55,711.77 1373.37,710.55 1374.18,709.33 1375.00,708.11 1375.82,706.90 1376.64,705.68 1377.46,704.47 1378.28,703.26 1379.10,702.04 1379.91,700.83 1380.73,699.62 1381.55,698.41 1382.37,697.20 1383.19,695.99 1384.01,694.79 1384.83,693.58 1385.64,692.37 1386.46,691.17 1387.28,689.96 1388.10,688.76 1388.92,687.56 1389.74,686.35 1390.56,685.15 1391.37,683.95 1392.19,682.75 1393.01,681.55 1393.83,680.35 1394.65,679.15 1395.47,677.95 1396.29,676.76 1397.10,675.56 1397.92,674.36 1398.74,673.17 1399.56,671.97 1400.38,670.78 1401.20,669.59 1402.02,668.39 1402.84,667.20 1403.65,666.01 1404.47,664.82 1405.29,663.63 1406.11,662.44 1406.93,661.25 1407.75,660.06 1408.57,658.87 1409.38,657.69 1410.20,656.50 1411.02,655.31 1411.84,654.13 1412.66,652.94 1413.48,651.76 1414.30,650.57 1415.11,649.39 1415.93,648.20 1416.75,647.02 1417.57,645.84 1418.39,644.66 1419.21,643.48 1420.03,642.29 1420.84,641.11 1421.66,639.93 1422.48,638.75 1423.30,637.58" fill="none" stroke="#03544f" stroke-width="3.8" stroke-linejoin="round" stroke-linecap="butt"/>
</g>
<rect x="1014.00" y="621.30" width="409.30" height="384.70" fill="none" stroke="#6e7982" stroke-width="1.3"/>
<clipPath id="cp7"><rect x="1432.5" y="561.3" width="530.0" height="57.6"/></clipPath>
<g clip-path="url(#cp7)">
<text transform="translate(1581.76 615.80) scale(0.9913 1.0300)" font-size="22" font-weight="bold" fill="#006e69">Softmax</text>
<text x="1668.15" y="615.80" font-size="21" font-weight="bold" fill="#006e69">（二分类切片）</text>
</g>
<line x1="1492.55" y1="961.61" x2="1902.55" y2="961.61" stroke="#a9b0b7" stroke-width="1.35"/>
<line x1="1697.55" y1="621.30" x2="1697.55" y2="1006.00" stroke="#a9b0b7" stroke-width="1.35"/>
<line x1="1492.55" y1="961.61" x2="1497.05" y2="961.61" stroke="#6d777f" stroke-width="1.1"/>
<line x1="1898.05" y1="961.61" x2="1902.55" y2="961.61" stroke="#6d777f" stroke-width="1.1"/>
<text x="1486.15" y="971.11" font-size="17" fill="#4e5a64" text-anchor="end">0</text>
<line x1="1492.55" y1="813.65" x2="1497.05" y2="813.65" stroke="#6d777f" stroke-width="1.1"/>
<line x1="1898.05" y1="813.65" x2="1902.55" y2="813.65" stroke="#6d777f" stroke-width="1.1"/>
<text x="1486.15" y="823.15" font-size="17" fill="#4e5a64" text-anchor="end">0.5</text>
<line x1="1492.55" y1="665.69" x2="1497.05" y2="665.69" stroke="#6d777f" stroke-width="1.1"/>
<line x1="1898.05" y1="665.69" x2="1902.55" y2="665.69" stroke="#6d777f" stroke-width="1.1"/>
<text x="1486.15" y="675.19" font-size="17" fill="#4e5a64" text-anchor="end">1</text>
<text x="1492.55" y="1033.30" font-size="17" fill="#4e5a64" text-anchor="middle">-5</text>
<text x="1697.55" y="1033.30" font-size="17" fill="#4e5a64" text-anchor="middle">0</text>
<text x="1902.55" y="1033.30" font-size="17" fill="#4e5a64" text-anchor="middle">5</text>
<text transform="translate(1692.68 1065.45) scale(1.0824 1.0000)" font-size="18" font-weight="normal" fill="#4e5a64" stroke="#4e5a64" stroke-width="0.55">x</text>
<text transform="translate(1463.35 827.82) rotate(-90) scale(1.0857 1)" font-size="18" fill="#4e5a64" stroke="#4e5a64" stroke-width="0.55">f(x)</text>
<text x="1506.65" y="676.15" font-size="15" font-weight="normal" fill="#2b333d">固定另一类</text>
<text transform="translate(1584.98 676.60) scale(1.1163 1.0300)" font-size="15" font-weight="normal" fill="#2b333d">logit=0</text>
<clipPath id="pc7"><rect x="1492.55" y="621.30" width="410.00" height="384.70"/></clipPath>
<g clip-path="url(#pc7)">
<line x1="1492.55" y1="813.65" x2="1902.55" y2="813.65" stroke="#c25450" stroke-width="1.8" stroke-dasharray="7.6 7.5"/>
<polyline points="1492.55,959.63 1493.37,959.59 1494.19,959.55 1495.01,959.51 1495.83,959.47 1496.65,959.42 1497.47,959.38 1498.29,959.34 1499.11,959.29 1499.93,959.24 1500.75,959.20 1501.57,959.15 1502.39,959.10 1503.21,959.05 1504.03,959.00 1504.85,958.94 1505.67,958.89 1506.49,958.84 1507.31,958.78 1508.13,958.72 1508.95,958.67 1509.77,958.61 1510.59,958.55 1511.41,958.49 1512.23,958.42 1513.05,958.36 1513.87,958.30 1514.69,958.23 1515.51,958.16 1516.33,958.09 1517.15,958.02 1517.97,957.95 1518.79,957.88 1519.61,957.80 1520.43,957.73 1521.25,957.65 1522.07,957.57 1522.89,957.49 1523.71,957.41 1524.53,957.32 1525.35,957.24 1526.17,957.15 1526.99,957.06 1527.81,956.97 1528.63,956.88 1529.45,956.79 1530.27,956.69 1531.09,956.59 1531.91,956.49 1532.73,956.39 1533.55,956.29 1534.37,956.18 1535.19,956.08 1536.01,955.97 1536.83,955.85 1537.65,955.74 1538.47,955.62 1539.29,955.51 1540.11,955.38 1540.93,955.26 1541.75,955.14 1542.57,955.01 1543.39,954.88 1544.21,954.75 1545.03,954.61 1545.85,954.47 1546.67,954.33 1547.49,954.19 1548.31,954.04 1549.13,953.89 1549.95,953.74 1550.77,953.59 1551.59,953.43 1552.41,953.27 1553.23,953.10 1554.05,952.94 1554.87,952.77 1555.69,952.59 1556.51,952.42 1557.33,952.24 1558.15,952.05 1558.97,951.87 1559.79,951.68 1560.61,951.48 1561.43,951.29 1562.25,951.09 1563.07,950.88 1563.89,950.67 1564.71,950.46 1565.53,950.24 1566.35,950.02 1567.17,949.80 1567.99,949.57 1568.81,949.33 1569.63,949.10 1570.45,948.86 1571.27,948.61 1572.09,948.36 1572.91,948.10 1573.73,947.84 1574.55,947.58 1575.37,947.31 1576.19,947.03 1577.01,946.75 1577.83,946.47 1578.65,946.18 1579.47,945.88 1580.29,945.58 1581.11,945.28 1581.93,944.96 1582.75,944.65 1583.57,944.33 1584.39,944.00 1585.21,943.66 1586.03,943.32 1586.85,942.98 1587.67,942.62 1588.49,942.27 1589.31,941.90 1590.13,941.53 1590.95,941.15 1591.77,940.77 1592.59,940.38 1593.41,939.98 1594.23,939.57 1595.05,939.16 1595.87,938.74 1596.69,938.32 1597.51,937.89 1598.33,937.45 1599.15,937.00 1599.97,936.54 1600.79,936.08 1601.61,935.61 1602.43,935.13 1603.25,934.65 1604.07,934.15 1604.89,933.65 1605.71,933.14 1606.53,932.62 1607.35,932.09 1608.17,931.56 1608.99,931.01 1609.81,930.46 1610.63,929.90 1611.45,929.33 1612.27,928.75 1613.09,928.16 1613.91,927.56 1614.73,926.95 1615.55,926.34 1616.37,925.71 1617.19,925.07 1618.01,924.43 1618.83,923.77 1619.65,923.11 1620.47,922.43 1621.29,921.75 1622.11,921.05 1622.93,920.35 1623.75,919.63 1624.57,918.91 1625.39,918.17 1626.21,917.43 1627.03,916.67 1627.85,915.90 1628.67,915.12 1629.49,914.33 1630.31,913.53 1631.13,912.72 1631.95,911.90 1632.77,911.07 1633.59,910.23 1634.41,909.37 1635.23,908.50 1636.05,907.63 1636.87,906.74 1637.69,905.84 1638.51,904.93 1639.33,904.01 1640.15,903.07 1640.97,902.13 1641.79,901.17 1642.61,900.20 1643.43,899.23 1644.25,898.24 1645.07,897.23 1645.89,896.22 1646.71,895.20 1647.53,894.16 1648.35,893.11 1649.17,892.05 1649.99,890.98 1650.81,889.90 1651.63,888.81 1652.45,887.71 1653.27,886.59 1654.09,885.47 1654.91,884.33 1655.73,883.18 1656.55,882.03 1657.37,880.86 1658.19,879.68 1659.01,878.49 1659.83,877.29 1660.65,876.07 1661.47,874.85 1662.29,873.62 1663.11,872.38 1663.93,871.13 1664.75,869.87 1665.57,868.60 1666.39,867.32 1667.21,866.03 1668.03,864.73 1668.85,863.42 1669.67,862.10 1670.49,860.78 1671.31,859.45 1672.13,858.10 1672.95,856.75 1673.77,855.40 1674.59,854.03 1675.41,852.66 1676.23,851.28 1677.05,849.89 1677.87,848.49 1678.69,847.09 1679.51,845.69 1680.33,844.27 1681.15,842.85 1681.97,841.43 1682.79,840.00 1683.61,838.56 1684.43,837.12 1685.25,835.68 1686.07,834.23 1686.89,832.78 1687.71,831.32 1688.53,829.86 1689.35,828.40 1690.17,826.93 1690.99,825.46 1691.81,823.99 1692.63,822.52 1693.45,821.04 1694.27,819.57 1695.09,818.09 1695.91,816.61 1696.73,815.13 1697.55,813.65 1698.37,812.17 1699.19,810.69 1700.01,809.21 1700.83,807.73 1701.65,806.26 1702.47,804.78 1703.29,803.31 1704.11,801.84 1704.93,800.37 1705.75,798.90 1706.57,797.44 1707.39,795.98 1708.21,794.52 1709.03,793.07 1709.85,791.62 1710.67,790.18 1711.49,788.74 1712.31,787.30 1713.13,785.87 1713.95,784.45 1714.77,783.03 1715.59,781.61 1716.41,780.21 1717.23,778.81 1718.05,777.41 1718.87,776.02 1719.69,774.64 1720.51,773.27 1721.33,771.90 1722.15,770.55 1722.97,769.20 1723.79,767.85 1724.61,766.52 1725.43,765.20 1726.25,763.88 1727.07,762.57 1727.89,761.27 1728.71,759.98 1729.53,758.70 1730.35,757.43 1731.17,756.17 1731.99,754.92 1732.81,753.68 1733.63,752.45 1734.45,751.23 1735.27,750.01 1736.09,748.81 1736.91,747.62 1737.73,746.44 1738.55,745.27 1739.37,744.12 1740.19,742.97 1741.01,741.83 1741.83,740.71 1742.65,739.59 1743.47,738.49 1744.29,737.40 1745.11,736.32 1745.93,735.25 1746.75,734.19 1747.57,733.14 1748.39,732.10 1749.21,731.08 1750.03,730.07 1750.85,729.06 1751.67,728.07 1752.49,727.10 1753.31,726.13 1754.13,725.17 1754.95,724.23 1755.77,723.29 1756.59,722.37 1757.41,721.46 1758.23,720.56 1759.05,719.67 1759.87,718.80 1760.69,717.93 1761.51,717.07 1762.33,716.23 1763.15,715.40 1763.97,714.58 1764.79,713.77 1765.61,712.97 1766.43,712.18 1767.25,711.40 1768.07,710.63 1768.89,709.87 1769.71,709.13 1770.53,708.39 1771.35,707.67 1772.17,706.95 1772.99,706.25 1773.81,705.55 1774.63,704.87 1775.45,704.19 1776.27,703.53 1777.09,702.87 1777.91,702.23 1778.73,701.59 1779.55,700.96 1780.37,700.35 1781.19,699.74 1782.01,699.14 1782.83,698.55 1783.65,697.97 1784.47,697.40 1785.29,696.84 1786.11,696.29 1786.93,695.74 1787.75,695.21 1788.57,694.68 1789.39,694.16 1790.21,693.65 1791.03,693.15 1791.85,692.65 1792.67,692.17 1793.49,691.69 1794.31,691.22 1795.13,690.76 1795.95,690.30 1796.77,689.85 1797.59,689.41 1798.41,688.98 1799.23,688.56 1800.05,688.14 1800.87,687.73 1801.69,687.32 1802.51,686.92 1803.33,686.53 1804.15,686.15 1804.97,685.77 1805.79,685.40 1806.61,685.03 1807.43,684.68 1808.25,684.32 1809.07,683.98 1809.89,683.64 1810.71,683.30 1811.53,682.97 1812.35,682.65 1813.17,682.34 1813.99,682.02 1814.81,681.72 1815.63,681.42 1816.45,681.12 1817.27,680.83 1818.09,680.55 1818.91,680.27 1819.73,679.99 1820.55,679.72 1821.37,679.46 1822.19,679.20 1823.01,678.94 1823.83,678.69 1824.65,678.44 1825.47,678.20 1826.29,677.97 1827.11,677.73 1827.93,677.50 1828.75,677.28 1829.57,677.06 1830.39,676.84 1831.21,676.63 1832.03,676.42 1832.85,676.21 1833.67,676.01 1834.49,675.82 1835.31,675.62 1836.13,675.43 1836.95,675.25 1837.77,675.06 1838.59,674.88 1839.41,674.71 1840.23,674.53 1841.05,674.36 1841.87,674.20 1842.69,674.03 1843.51,673.87 1844.33,673.71 1845.15,673.56 1845.97,673.41 1846.79,673.26 1847.61,673.11 1848.43,672.97 1849.25,672.83 1850.07,672.69 1850.89,672.55 1851.71,672.42 1852.53,672.29 1853.35,672.16 1854.17,672.04 1854.99,671.92 1855.81,671.79 1856.63,671.68 1857.45,671.56 1858.27,671.45 1859.09,671.33 1859.91,671.22 1860.73,671.12 1861.55,671.01 1862.37,670.91 1863.19,670.81 1864.01,670.71 1864.83,670.61 1865.65,670.51 1866.47,670.42 1867.29,670.33 1868.11,670.24 1868.93,670.15 1869.75,670.06 1870.57,669.98 1871.39,669.89 1872.21,669.81 1873.03,669.73 1873.85,669.65 1874.67,669.57 1875.49,669.50 1876.31,669.42 1877.13,669.35 1877.95,669.28 1878.77,669.21 1879.59,669.14 1880.41,669.07 1881.23,669.00 1882.05,668.94 1882.87,668.88 1883.69,668.81 1884.51,668.75 1885.33,668.69 1886.15,668.63 1886.97,668.58 1887.79,668.52 1888.61,668.46 1889.43,668.41 1890.25,668.36 1891.07,668.30 1891.89,668.25 1892.71,668.20 1893.53,668.15 1894.35,668.10 1895.17,668.06 1895.99,668.01 1896.81,667.96 1897.63,667.92 1898.45,667.88 1899.27,667.83 1900.09,667.79 1900.91,667.75 1901.73,667.71 1902.55,667.67" fill="none" stroke="#03544f" stroke-width="3.8" stroke-linejoin="round" stroke-linecap="butt"/>
</g>
<rect x="1492.55" y="621.30" width="410.00" height="384.70" fill="none" stroke="#6e7982" stroke-width="1.3"/>
</svg></body></html>
